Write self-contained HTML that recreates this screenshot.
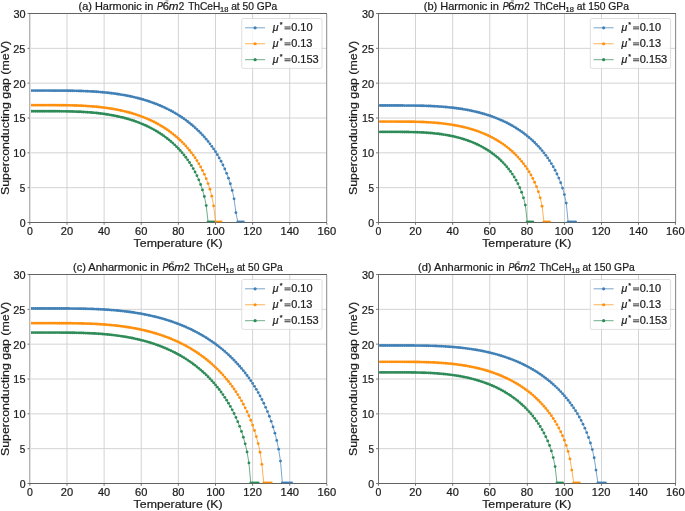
<!DOCTYPE html>
<html><head><meta charset="utf-8"><title>Superconducting gap</title>
<style>html,body{margin:0;padding:0;background:#fff;overflow:hidden}svg{display:block;will-change:transform}text{font-family:"Liberation Sans",sans-serif;stroke:#1c1c1c;stroke-width:0.22px}</style></head>
<body>
<svg width="685" height="511" viewBox="0 0 685 511" font-family='"Liberation Sans", sans-serif' fill="#1c1c1c">
<defs><clipPath id="clip0"><rect x="29.85" y="13.5" width="297.04" height="209.0"/></clipPath><clipPath id="clip1"><rect x="378.40" y="13.5" width="297.04" height="209.0"/></clipPath><clipPath id="clip2"><rect x="29.85" y="274.5" width="297.04" height="209.0"/></clipPath><clipPath id="clip3"><rect x="378.40" y="274.5" width="297.04" height="209.0"/></clipPath></defs>
<rect width="685" height="511" fill="#fff"/>
<line x1="66.98" y1="13.5" x2="66.98" y2="222.5" stroke="#d3d3d3" stroke-width="1"/>
<line x1="104.11" y1="13.5" x2="104.11" y2="222.5" stroke="#d3d3d3" stroke-width="1"/>
<line x1="141.24" y1="13.5" x2="141.24" y2="222.5" stroke="#d3d3d3" stroke-width="1"/>
<line x1="178.37" y1="13.5" x2="178.37" y2="222.5" stroke="#d3d3d3" stroke-width="1"/>
<line x1="215.50" y1="13.5" x2="215.50" y2="222.5" stroke="#d3d3d3" stroke-width="1"/>
<line x1="252.63" y1="13.5" x2="252.63" y2="222.5" stroke="#d3d3d3" stroke-width="1"/>
<line x1="289.76" y1="13.5" x2="289.76" y2="222.5" stroke="#d3d3d3" stroke-width="1"/>
<line x1="29.85" y1="187.67" x2="326.89" y2="187.67" stroke="#d3d3d3" stroke-width="1"/>
<line x1="29.85" y1="152.83" x2="326.89" y2="152.83" stroke="#d3d3d3" stroke-width="1"/>
<line x1="29.85" y1="118.00" x2="326.89" y2="118.00" stroke="#d3d3d3" stroke-width="1"/>
<line x1="29.85" y1="83.17" x2="326.89" y2="83.17" stroke="#d3d3d3" stroke-width="1"/>
<line x1="29.85" y1="48.33" x2="326.89" y2="48.33" stroke="#d3d3d3" stroke-width="1"/>
<rect x="29" y="222.0" width="298" height="1" fill="#636363"/>
<g clip-path="url(#clip0)">
<path d="M31.71,90.62 L33.56,90.62 L35.42,90.62 L37.28,90.62 L39.13,90.62 L40.99,90.62 L42.85,90.62 L44.70,90.62 L46.56,90.62 L48.42,90.62 L50.27,90.62 L52.13,90.63 L53.98,90.63 L55.84,90.63 L57.70,90.64 L59.55,90.65 L61.41,90.65 L63.27,90.67 L65.12,90.68 L66.98,90.70 L68.84,90.72 L70.69,90.75 L72.55,90.78 L74.41,90.82 L76.26,90.86 L78.12,90.90 L79.98,90.96 L81.83,91.02 L83.69,91.08 L85.55,91.16 L87.40,91.24 L89.26,91.33 L91.11,91.43 L92.97,91.54 L94.83,91.66 L96.68,91.78 L98.54,91.92 L100.40,92.07 L102.25,92.23 L104.11,92.40 L105.97,92.59 L107.82,92.78 L109.68,92.99 L111.54,93.22 L113.39,93.45 L115.25,93.70 L117.11,93.97 L118.96,94.25 L120.82,94.55 L122.68,94.86 L124.53,95.19 L126.39,95.54 L128.24,95.91 L130.10,96.29 L131.96,96.69 L133.81,97.11 L135.67,97.56 L137.53,98.02 L139.38,98.51 L141.24,99.01 L143.10,99.54 L144.95,100.10 L146.81,100.67 L148.67,101.28 L150.52,101.90 L152.38,102.56 L154.24,103.24 L156.09,103.95 L157.95,104.69 L159.81,105.46 L161.66,106.26 L163.52,107.09 L165.37,107.96 L167.23,108.86 L169.09,109.80 L170.94,110.78 L172.80,111.79 L174.66,112.85 L176.51,113.94 L178.37,115.08 L180.23,116.27 L182.08,117.50 L183.94,118.79 L185.80,120.12 L187.65,121.51 L189.51,122.96 L191.37,124.47 L193.22,126.04 L195.08,127.68 L196.94,129.39 L198.79,131.18 L200.65,133.04 L202.50,135.00 L204.36,137.04 L206.22,139.19 L208.07,141.44 L209.93,143.81 L211.79,146.30 L213.64,148.94 L215.50,151.74 L217.36,154.71 L219.21,157.88 L221.07,161.27 L222.93,164.94 L224.78,168.93 L226.64,173.31 L228.50,178.20 L230.35,183.78 L232.21,190.39 L234.06,198.81 L235.92,212.67 L237.78,221.80 L239.63,221.80 L241.49,221.80 L243.35,221.80" fill="none" stroke="#4080b6" stroke-width="0.7"/>
<g fill="#4080b6"><circle cx="31.71" cy="90.62" r="1.42"/><circle cx="33.56" cy="90.62" r="1.42"/><circle cx="35.42" cy="90.62" r="1.42"/><circle cx="37.28" cy="90.62" r="1.42"/><circle cx="39.13" cy="90.62" r="1.42"/><circle cx="40.99" cy="90.62" r="1.42"/><circle cx="42.85" cy="90.62" r="1.42"/><circle cx="44.70" cy="90.62" r="1.42"/><circle cx="46.56" cy="90.62" r="1.42"/><circle cx="48.42" cy="90.62" r="1.42"/><circle cx="50.27" cy="90.62" r="1.42"/><circle cx="52.13" cy="90.63" r="1.42"/><circle cx="53.98" cy="90.63" r="1.42"/><circle cx="55.84" cy="90.63" r="1.42"/><circle cx="57.70" cy="90.64" r="1.42"/><circle cx="59.55" cy="90.65" r="1.42"/><circle cx="61.41" cy="90.65" r="1.42"/><circle cx="63.27" cy="90.67" r="1.42"/><circle cx="65.12" cy="90.68" r="1.42"/><circle cx="66.98" cy="90.70" r="1.42"/><circle cx="68.84" cy="90.72" r="1.42"/><circle cx="70.69" cy="90.75" r="1.42"/><circle cx="72.55" cy="90.78" r="1.42"/><circle cx="74.41" cy="90.82" r="1.42"/><circle cx="76.26" cy="90.86" r="1.42"/><circle cx="78.12" cy="90.90" r="1.42"/><circle cx="79.98" cy="90.96" r="1.42"/><circle cx="81.83" cy="91.02" r="1.42"/><circle cx="83.69" cy="91.08" r="1.42"/><circle cx="85.55" cy="91.16" r="1.42"/><circle cx="87.40" cy="91.24" r="1.42"/><circle cx="89.26" cy="91.33" r="1.42"/><circle cx="91.11" cy="91.43" r="1.42"/><circle cx="92.97" cy="91.54" r="1.42"/><circle cx="94.83" cy="91.66" r="1.42"/><circle cx="96.68" cy="91.78" r="1.42"/><circle cx="98.54" cy="91.92" r="1.42"/><circle cx="100.40" cy="92.07" r="1.42"/><circle cx="102.25" cy="92.23" r="1.42"/><circle cx="104.11" cy="92.40" r="1.42"/><circle cx="105.97" cy="92.59" r="1.42"/><circle cx="107.82" cy="92.78" r="1.42"/><circle cx="109.68" cy="92.99" r="1.42"/><circle cx="111.54" cy="93.22" r="1.42"/><circle cx="113.39" cy="93.45" r="1.42"/><circle cx="115.25" cy="93.70" r="1.42"/><circle cx="117.11" cy="93.97" r="1.42"/><circle cx="118.96" cy="94.25" r="1.42"/><circle cx="120.82" cy="94.55" r="1.42"/><circle cx="122.68" cy="94.86" r="1.42"/><circle cx="124.53" cy="95.19" r="1.42"/><circle cx="126.39" cy="95.54" r="1.42"/><circle cx="128.24" cy="95.91" r="1.42"/><circle cx="130.10" cy="96.29" r="1.42"/><circle cx="131.96" cy="96.69" r="1.42"/><circle cx="133.81" cy="97.11" r="1.42"/><circle cx="135.67" cy="97.56" r="1.42"/><circle cx="137.53" cy="98.02" r="1.42"/><circle cx="139.38" cy="98.51" r="1.42"/><circle cx="141.24" cy="99.01" r="1.42"/><circle cx="143.10" cy="99.54" r="1.42"/><circle cx="144.95" cy="100.10" r="1.42"/><circle cx="146.81" cy="100.67" r="1.42"/><circle cx="148.67" cy="101.28" r="1.42"/><circle cx="150.52" cy="101.90" r="1.42"/><circle cx="152.38" cy="102.56" r="1.42"/><circle cx="154.24" cy="103.24" r="1.42"/><circle cx="156.09" cy="103.95" r="1.42"/><circle cx="157.95" cy="104.69" r="1.42"/><circle cx="159.81" cy="105.46" r="1.42"/><circle cx="161.66" cy="106.26" r="1.42"/><circle cx="163.52" cy="107.09" r="1.42"/><circle cx="165.37" cy="107.96" r="1.42"/><circle cx="167.23" cy="108.86" r="1.42"/><circle cx="169.09" cy="109.80" r="1.42"/><circle cx="170.94" cy="110.78" r="1.42"/><circle cx="172.80" cy="111.79" r="1.42"/><circle cx="174.66" cy="112.85" r="1.42"/><circle cx="176.51" cy="113.94" r="1.42"/><circle cx="178.37" cy="115.08" r="1.42"/><circle cx="180.23" cy="116.27" r="1.42"/><circle cx="182.08" cy="117.50" r="1.42"/><circle cx="183.94" cy="118.79" r="1.42"/><circle cx="185.80" cy="120.12" r="1.42"/><circle cx="187.65" cy="121.51" r="1.42"/><circle cx="189.51" cy="122.96" r="1.42"/><circle cx="191.37" cy="124.47" r="1.42"/><circle cx="193.22" cy="126.04" r="1.42"/><circle cx="195.08" cy="127.68" r="1.42"/><circle cx="196.94" cy="129.39" r="1.42"/><circle cx="198.79" cy="131.18" r="1.42"/><circle cx="200.65" cy="133.04" r="1.42"/><circle cx="202.50" cy="135.00" r="1.42"/><circle cx="204.36" cy="137.04" r="1.42"/><circle cx="206.22" cy="139.19" r="1.42"/><circle cx="208.07" cy="141.44" r="1.42"/><circle cx="209.93" cy="143.81" r="1.42"/><circle cx="211.79" cy="146.30" r="1.42"/><circle cx="213.64" cy="148.94" r="1.42"/><circle cx="215.50" cy="151.74" r="1.42"/><circle cx="217.36" cy="154.71" r="1.42"/><circle cx="219.21" cy="157.88" r="1.42"/><circle cx="221.07" cy="161.27" r="1.42"/><circle cx="222.93" cy="164.94" r="1.42"/><circle cx="224.78" cy="168.93" r="1.42"/><circle cx="226.64" cy="173.31" r="1.42"/><circle cx="228.50" cy="178.20" r="1.42"/><circle cx="230.35" cy="183.78" r="1.42"/><circle cx="232.21" cy="190.39" r="1.42"/><circle cx="234.06" cy="198.81" r="1.42"/><circle cx="235.92" cy="212.67" r="1.42"/><circle cx="237.78" cy="221.80" r="1.42"/><circle cx="239.63" cy="221.80" r="1.42"/><circle cx="241.49" cy="221.80" r="1.42"/><circle cx="243.35" cy="221.80" r="1.42"/></g>
<path d="M31.71,105.18 L33.56,105.18 L35.42,105.18 L37.28,105.18 L39.13,105.18 L40.99,105.18 L42.85,105.18 L44.70,105.18 L46.56,105.18 L48.42,105.18 L50.27,105.19 L52.13,105.19 L53.98,105.19 L55.84,105.20 L57.70,105.21 L59.55,105.22 L61.41,105.23 L63.27,105.25 L65.12,105.28 L66.98,105.30 L68.84,105.34 L70.69,105.37 L72.55,105.42 L74.41,105.47 L76.26,105.53 L78.12,105.59 L79.98,105.67 L81.83,105.75 L83.69,105.84 L85.55,105.94 L87.40,106.06 L89.26,106.18 L91.11,106.31 L92.97,106.46 L94.83,106.62 L96.68,106.79 L98.54,106.98 L100.40,107.18 L102.25,107.39 L104.11,107.62 L105.97,107.86 L107.82,108.13 L109.68,108.40 L111.54,108.70 L113.39,109.01 L115.25,109.35 L117.11,109.70 L118.96,110.07 L120.82,110.46 L122.68,110.87 L124.53,111.31 L126.39,111.77 L128.24,112.25 L130.10,112.76 L131.96,113.29 L133.81,113.85 L135.67,114.44 L137.53,115.05 L139.38,115.70 L141.24,116.37 L143.10,117.07 L144.95,117.81 L146.81,118.58 L148.67,119.39 L150.52,120.23 L152.38,121.11 L154.24,122.03 L156.09,122.99 L157.95,124.00 L159.81,125.05 L161.66,126.14 L163.52,127.28 L165.37,128.48 L167.23,129.73 L169.09,131.03 L170.94,132.40 L172.80,133.83 L174.66,135.32 L176.51,136.89 L178.37,138.53 L180.23,140.25 L182.08,142.05 L183.94,143.95 L185.80,145.95 L187.65,148.06 L189.51,150.28 L191.37,152.63 L193.22,155.12 L195.08,157.78 L196.94,160.61 L198.79,163.65 L200.65,166.92 L202.50,170.48 L204.36,174.37 L206.22,178.69 L208.07,183.58 L209.93,189.25 L211.79,196.20 L213.64,205.85 L215.50,221.80 L217.36,221.80 L219.21,221.80 L221.07,221.80" fill="none" stroke="#ff900e" stroke-width="0.7"/>
<g fill="#ff900e"><circle cx="31.71" cy="105.18" r="1.42"/><circle cx="33.56" cy="105.18" r="1.42"/><circle cx="35.42" cy="105.18" r="1.42"/><circle cx="37.28" cy="105.18" r="1.42"/><circle cx="39.13" cy="105.18" r="1.42"/><circle cx="40.99" cy="105.18" r="1.42"/><circle cx="42.85" cy="105.18" r="1.42"/><circle cx="44.70" cy="105.18" r="1.42"/><circle cx="46.56" cy="105.18" r="1.42"/><circle cx="48.42" cy="105.18" r="1.42"/><circle cx="50.27" cy="105.19" r="1.42"/><circle cx="52.13" cy="105.19" r="1.42"/><circle cx="53.98" cy="105.19" r="1.42"/><circle cx="55.84" cy="105.20" r="1.42"/><circle cx="57.70" cy="105.21" r="1.42"/><circle cx="59.55" cy="105.22" r="1.42"/><circle cx="61.41" cy="105.23" r="1.42"/><circle cx="63.27" cy="105.25" r="1.42"/><circle cx="65.12" cy="105.28" r="1.42"/><circle cx="66.98" cy="105.30" r="1.42"/><circle cx="68.84" cy="105.34" r="1.42"/><circle cx="70.69" cy="105.37" r="1.42"/><circle cx="72.55" cy="105.42" r="1.42"/><circle cx="74.41" cy="105.47" r="1.42"/><circle cx="76.26" cy="105.53" r="1.42"/><circle cx="78.12" cy="105.59" r="1.42"/><circle cx="79.98" cy="105.67" r="1.42"/><circle cx="81.83" cy="105.75" r="1.42"/><circle cx="83.69" cy="105.84" r="1.42"/><circle cx="85.55" cy="105.94" r="1.42"/><circle cx="87.40" cy="106.06" r="1.42"/><circle cx="89.26" cy="106.18" r="1.42"/><circle cx="91.11" cy="106.31" r="1.42"/><circle cx="92.97" cy="106.46" r="1.42"/><circle cx="94.83" cy="106.62" r="1.42"/><circle cx="96.68" cy="106.79" r="1.42"/><circle cx="98.54" cy="106.98" r="1.42"/><circle cx="100.40" cy="107.18" r="1.42"/><circle cx="102.25" cy="107.39" r="1.42"/><circle cx="104.11" cy="107.62" r="1.42"/><circle cx="105.97" cy="107.86" r="1.42"/><circle cx="107.82" cy="108.13" r="1.42"/><circle cx="109.68" cy="108.40" r="1.42"/><circle cx="111.54" cy="108.70" r="1.42"/><circle cx="113.39" cy="109.01" r="1.42"/><circle cx="115.25" cy="109.35" r="1.42"/><circle cx="117.11" cy="109.70" r="1.42"/><circle cx="118.96" cy="110.07" r="1.42"/><circle cx="120.82" cy="110.46" r="1.42"/><circle cx="122.68" cy="110.87" r="1.42"/><circle cx="124.53" cy="111.31" r="1.42"/><circle cx="126.39" cy="111.77" r="1.42"/><circle cx="128.24" cy="112.25" r="1.42"/><circle cx="130.10" cy="112.76" r="1.42"/><circle cx="131.96" cy="113.29" r="1.42"/><circle cx="133.81" cy="113.85" r="1.42"/><circle cx="135.67" cy="114.44" r="1.42"/><circle cx="137.53" cy="115.05" r="1.42"/><circle cx="139.38" cy="115.70" r="1.42"/><circle cx="141.24" cy="116.37" r="1.42"/><circle cx="143.10" cy="117.07" r="1.42"/><circle cx="144.95" cy="117.81" r="1.42"/><circle cx="146.81" cy="118.58" r="1.42"/><circle cx="148.67" cy="119.39" r="1.42"/><circle cx="150.52" cy="120.23" r="1.42"/><circle cx="152.38" cy="121.11" r="1.42"/><circle cx="154.24" cy="122.03" r="1.42"/><circle cx="156.09" cy="122.99" r="1.42"/><circle cx="157.95" cy="124.00" r="1.42"/><circle cx="159.81" cy="125.05" r="1.42"/><circle cx="161.66" cy="126.14" r="1.42"/><circle cx="163.52" cy="127.28" r="1.42"/><circle cx="165.37" cy="128.48" r="1.42"/><circle cx="167.23" cy="129.73" r="1.42"/><circle cx="169.09" cy="131.03" r="1.42"/><circle cx="170.94" cy="132.40" r="1.42"/><circle cx="172.80" cy="133.83" r="1.42"/><circle cx="174.66" cy="135.32" r="1.42"/><circle cx="176.51" cy="136.89" r="1.42"/><circle cx="178.37" cy="138.53" r="1.42"/><circle cx="180.23" cy="140.25" r="1.42"/><circle cx="182.08" cy="142.05" r="1.42"/><circle cx="183.94" cy="143.95" r="1.42"/><circle cx="185.80" cy="145.95" r="1.42"/><circle cx="187.65" cy="148.06" r="1.42"/><circle cx="189.51" cy="150.28" r="1.42"/><circle cx="191.37" cy="152.63" r="1.42"/><circle cx="193.22" cy="155.12" r="1.42"/><circle cx="195.08" cy="157.78" r="1.42"/><circle cx="196.94" cy="160.61" r="1.42"/><circle cx="198.79" cy="163.65" r="1.42"/><circle cx="200.65" cy="166.92" r="1.42"/><circle cx="202.50" cy="170.48" r="1.42"/><circle cx="204.36" cy="174.37" r="1.42"/><circle cx="206.22" cy="178.69" r="1.42"/><circle cx="208.07" cy="183.58" r="1.42"/><circle cx="209.93" cy="189.25" r="1.42"/><circle cx="211.79" cy="196.20" r="1.42"/><circle cx="213.64" cy="205.85" r="1.42"/><circle cx="215.50" cy="221.80" r="1.42"/><circle cx="217.36" cy="221.80" r="1.42"/><circle cx="219.21" cy="221.80" r="1.42"/><circle cx="221.07" cy="221.80" r="1.42"/></g>
<path d="M31.71,111.24 L33.56,111.24 L35.42,111.24 L37.28,111.24 L39.13,111.24 L40.99,111.24 L42.85,111.24 L44.70,111.24 L46.56,111.24 L48.42,111.25 L50.27,111.25 L52.13,111.25 L53.98,111.26 L55.84,111.26 L57.70,111.27 L59.55,111.29 L61.41,111.30 L63.27,111.33 L65.12,111.35 L66.98,111.38 L68.84,111.42 L70.69,111.46 L72.55,111.51 L74.41,111.57 L76.26,111.63 L78.12,111.71 L79.98,111.79 L81.83,111.88 L83.69,111.99 L85.55,112.10 L87.40,112.22 L89.26,112.36 L91.11,112.51 L92.97,112.67 L94.83,112.84 L96.68,113.03 L98.54,113.24 L100.40,113.46 L102.25,113.69 L104.11,113.94 L105.97,114.21 L107.82,114.50 L109.68,114.80 L111.54,115.13 L113.39,115.47 L115.25,115.84 L117.11,116.22 L118.96,116.63 L120.82,117.06 L122.68,117.51 L124.53,117.99 L126.39,118.50 L128.24,119.03 L130.10,119.58 L131.96,120.17 L133.81,120.78 L135.67,121.43 L137.53,122.10 L139.38,122.81 L141.24,123.55 L143.10,124.33 L144.95,125.15 L146.81,126.00 L148.67,126.89 L150.52,127.83 L152.38,128.80 L154.24,129.83 L156.09,130.90 L157.95,132.02 L159.81,133.19 L161.66,134.42 L163.52,135.70 L165.37,137.05 L167.23,138.46 L169.09,139.94 L170.94,141.49 L172.80,143.12 L174.66,144.84 L176.51,146.64 L178.37,148.54 L180.23,150.54 L182.08,152.66 L183.94,154.90 L185.80,157.28 L187.65,159.81 L189.51,162.52 L191.37,165.43 L193.22,168.56 L195.08,171.96 L196.94,175.69 L198.79,179.82 L200.65,184.49 L202.50,189.91 L204.36,196.52 L206.22,205.56 L208.07,221.80 L209.93,221.80 L211.79,221.80 L213.64,221.80" fill="none" stroke="#2e8b57" stroke-width="0.7"/>
<g fill="#2e8b57"><circle cx="31.71" cy="111.24" r="1.42"/><circle cx="33.56" cy="111.24" r="1.42"/><circle cx="35.42" cy="111.24" r="1.42"/><circle cx="37.28" cy="111.24" r="1.42"/><circle cx="39.13" cy="111.24" r="1.42"/><circle cx="40.99" cy="111.24" r="1.42"/><circle cx="42.85" cy="111.24" r="1.42"/><circle cx="44.70" cy="111.24" r="1.42"/><circle cx="46.56" cy="111.24" r="1.42"/><circle cx="48.42" cy="111.25" r="1.42"/><circle cx="50.27" cy="111.25" r="1.42"/><circle cx="52.13" cy="111.25" r="1.42"/><circle cx="53.98" cy="111.26" r="1.42"/><circle cx="55.84" cy="111.26" r="1.42"/><circle cx="57.70" cy="111.27" r="1.42"/><circle cx="59.55" cy="111.29" r="1.42"/><circle cx="61.41" cy="111.30" r="1.42"/><circle cx="63.27" cy="111.33" r="1.42"/><circle cx="65.12" cy="111.35" r="1.42"/><circle cx="66.98" cy="111.38" r="1.42"/><circle cx="68.84" cy="111.42" r="1.42"/><circle cx="70.69" cy="111.46" r="1.42"/><circle cx="72.55" cy="111.51" r="1.42"/><circle cx="74.41" cy="111.57" r="1.42"/><circle cx="76.26" cy="111.63" r="1.42"/><circle cx="78.12" cy="111.71" r="1.42"/><circle cx="79.98" cy="111.79" r="1.42"/><circle cx="81.83" cy="111.88" r="1.42"/><circle cx="83.69" cy="111.99" r="1.42"/><circle cx="85.55" cy="112.10" r="1.42"/><circle cx="87.40" cy="112.22" r="1.42"/><circle cx="89.26" cy="112.36" r="1.42"/><circle cx="91.11" cy="112.51" r="1.42"/><circle cx="92.97" cy="112.67" r="1.42"/><circle cx="94.83" cy="112.84" r="1.42"/><circle cx="96.68" cy="113.03" r="1.42"/><circle cx="98.54" cy="113.24" r="1.42"/><circle cx="100.40" cy="113.46" r="1.42"/><circle cx="102.25" cy="113.69" r="1.42"/><circle cx="104.11" cy="113.94" r="1.42"/><circle cx="105.97" cy="114.21" r="1.42"/><circle cx="107.82" cy="114.50" r="1.42"/><circle cx="109.68" cy="114.80" r="1.42"/><circle cx="111.54" cy="115.13" r="1.42"/><circle cx="113.39" cy="115.47" r="1.42"/><circle cx="115.25" cy="115.84" r="1.42"/><circle cx="117.11" cy="116.22" r="1.42"/><circle cx="118.96" cy="116.63" r="1.42"/><circle cx="120.82" cy="117.06" r="1.42"/><circle cx="122.68" cy="117.51" r="1.42"/><circle cx="124.53" cy="117.99" r="1.42"/><circle cx="126.39" cy="118.50" r="1.42"/><circle cx="128.24" cy="119.03" r="1.42"/><circle cx="130.10" cy="119.58" r="1.42"/><circle cx="131.96" cy="120.17" r="1.42"/><circle cx="133.81" cy="120.78" r="1.42"/><circle cx="135.67" cy="121.43" r="1.42"/><circle cx="137.53" cy="122.10" r="1.42"/><circle cx="139.38" cy="122.81" r="1.42"/><circle cx="141.24" cy="123.55" r="1.42"/><circle cx="143.10" cy="124.33" r="1.42"/><circle cx="144.95" cy="125.15" r="1.42"/><circle cx="146.81" cy="126.00" r="1.42"/><circle cx="148.67" cy="126.89" r="1.42"/><circle cx="150.52" cy="127.83" r="1.42"/><circle cx="152.38" cy="128.80" r="1.42"/><circle cx="154.24" cy="129.83" r="1.42"/><circle cx="156.09" cy="130.90" r="1.42"/><circle cx="157.95" cy="132.02" r="1.42"/><circle cx="159.81" cy="133.19" r="1.42"/><circle cx="161.66" cy="134.42" r="1.42"/><circle cx="163.52" cy="135.70" r="1.42"/><circle cx="165.37" cy="137.05" r="1.42"/><circle cx="167.23" cy="138.46" r="1.42"/><circle cx="169.09" cy="139.94" r="1.42"/><circle cx="170.94" cy="141.49" r="1.42"/><circle cx="172.80" cy="143.12" r="1.42"/><circle cx="174.66" cy="144.84" r="1.42"/><circle cx="176.51" cy="146.64" r="1.42"/><circle cx="178.37" cy="148.54" r="1.42"/><circle cx="180.23" cy="150.54" r="1.42"/><circle cx="182.08" cy="152.66" r="1.42"/><circle cx="183.94" cy="154.90" r="1.42"/><circle cx="185.80" cy="157.28" r="1.42"/><circle cx="187.65" cy="159.81" r="1.42"/><circle cx="189.51" cy="162.52" r="1.42"/><circle cx="191.37" cy="165.43" r="1.42"/><circle cx="193.22" cy="168.56" r="1.42"/><circle cx="195.08" cy="171.96" r="1.42"/><circle cx="196.94" cy="175.69" r="1.42"/><circle cx="198.79" cy="179.82" r="1.42"/><circle cx="200.65" cy="184.49" r="1.42"/><circle cx="202.50" cy="189.91" r="1.42"/><circle cx="204.36" cy="196.52" r="1.42"/><circle cx="206.22" cy="205.56" r="1.42"/><circle cx="208.07" cy="221.80" r="1.42"/><circle cx="209.93" cy="221.80" r="1.42"/><circle cx="211.79" cy="221.80" r="1.42"/><circle cx="213.64" cy="221.80" r="1.42"/></g>
</g>
<rect x="29" y="13.0" width="298" height="1" fill="#636363"/>
<rect x="29" y="222.0" width="298" height="1" fill="#636363" opacity="0.55"/>
<rect x="29" y="14.0" width="1" height="208.0" fill="#b4b4b4"/>
<rect x="30" y="14.0" width="1" height="208.0" fill="#e2e2e2"/>
<rect x="326" y="14.0" width="1" height="208.0" fill="#a0a0a0"/>
<rect x="327" y="14.0" width="1" height="208.0" fill="#e8e8e8"/>
<line x1="29.85" y1="223.0" x2="29.85" y2="224.8" stroke="#636363" stroke-width="0.9"/>
<line x1="66.98" y1="223.0" x2="66.98" y2="224.8" stroke="#636363" stroke-width="0.9"/>
<line x1="104.11" y1="223.0" x2="104.11" y2="224.8" stroke="#636363" stroke-width="0.9"/>
<line x1="141.24" y1="223.0" x2="141.24" y2="224.8" stroke="#636363" stroke-width="0.9"/>
<line x1="178.37" y1="223.0" x2="178.37" y2="224.8" stroke="#636363" stroke-width="0.9"/>
<line x1="215.50" y1="223.0" x2="215.50" y2="224.8" stroke="#636363" stroke-width="0.9"/>
<line x1="252.63" y1="223.0" x2="252.63" y2="224.8" stroke="#636363" stroke-width="0.9"/>
<line x1="289.76" y1="223.0" x2="289.76" y2="224.8" stroke="#636363" stroke-width="0.9"/>
<line x1="326.89" y1="223.0" x2="326.89" y2="224.8" stroke="#636363" stroke-width="0.9"/>
<line x1="27.55" y1="222.50" x2="29.35" y2="222.50" stroke="#636363" stroke-width="0.9"/>
<line x1="27.55" y1="187.67" x2="29.35" y2="187.67" stroke="#636363" stroke-width="0.9"/>
<line x1="27.55" y1="152.83" x2="29.35" y2="152.83" stroke="#636363" stroke-width="0.9"/>
<line x1="27.55" y1="118.00" x2="29.35" y2="118.00" stroke="#636363" stroke-width="0.9"/>
<line x1="27.55" y1="83.17" x2="29.35" y2="83.17" stroke="#636363" stroke-width="0.9"/>
<line x1="27.55" y1="48.33" x2="29.35" y2="48.33" stroke="#636363" stroke-width="0.9"/>
<line x1="27.55" y1="13.50" x2="29.35" y2="13.50" stroke="#636363" stroke-width="0.9"/>
<text x="26.91" y="235.10" font-size="10.60" textLength="5.86" lengthAdjust="spacingAndGlyphs" fill="#1c1c1c">0</text>
<text x="60.79" y="235.10" font-size="10.60" textLength="12.31" lengthAdjust="spacingAndGlyphs" fill="#1c1c1c">20</text>
<text x="97.99" y="235.10" font-size="10.60" textLength="12.24" lengthAdjust="spacingAndGlyphs" fill="#1c1c1c">40</text>
<text x="135.01" y="235.10" font-size="10.60" textLength="12.35" lengthAdjust="spacingAndGlyphs" fill="#1c1c1c">60</text>
<text x="172.20" y="235.10" font-size="10.60" textLength="12.29" lengthAdjust="spacingAndGlyphs" fill="#1c1c1c">80</text>
<text x="206.20" y="235.10" font-size="10.60" textLength="18.61" lengthAdjust="spacingAndGlyphs" fill="#1c1c1c">100</text>
<text x="243.33" y="235.10" font-size="10.60" textLength="18.61" lengthAdjust="spacingAndGlyphs" fill="#1c1c1c">120</text>
<text x="280.46" y="235.10" font-size="10.60" textLength="18.61" lengthAdjust="spacingAndGlyphs" fill="#1c1c1c">140</text>
<text x="317.59" y="235.10" font-size="10.60" textLength="18.61" lengthAdjust="spacingAndGlyphs" fill="#1c1c1c">160</text>
<text x="19.73" y="226.90" font-size="10.60" textLength="5.86" lengthAdjust="spacingAndGlyphs" fill="#1c1c1c">0</text>
<text x="19.86" y="192.07" font-size="10.60" textLength="5.53" lengthAdjust="spacingAndGlyphs" fill="#1c1c1c">5</text>
<text x="13.38" y="157.23" font-size="10.60" textLength="12.23" lengthAdjust="spacingAndGlyphs" fill="#1c1c1c">10</text>
<text x="13.39" y="122.40" font-size="10.60" textLength="12.03" lengthAdjust="spacingAndGlyphs" fill="#1c1c1c">15</text>
<text x="13.30" y="87.57" font-size="10.60" textLength="12.31" lengthAdjust="spacingAndGlyphs" fill="#1c1c1c">20</text>
<text x="13.31" y="52.73" font-size="10.60" textLength="12.11" lengthAdjust="spacingAndGlyphs" fill="#1c1c1c">25</text>
<text x="13.47" y="17.90" font-size="10.60" textLength="12.13" lengthAdjust="spacingAndGlyphs" fill="#1c1c1c">30</text>
<text x="133.61" y="247.00" font-size="11.66" textLength="89.10" lengthAdjust="spacingAndGlyphs" fill="#1c1c1c">Temperature (K)</text>
<g transform="translate(8.85,118.00) rotate(-90)"><text x="-77.02" y="0.00" font-size="11.66" textLength="154.02" lengthAdjust="spacingAndGlyphs" fill="#1c1c1c">Superconducting gap (meV)</text></g>
<text x="78.49" y="9.55" font-size="10.28" textLength="74.87" lengthAdjust="spacingAndGlyphs" fill="#1c1c1c">(a) Harmonic in</text>
<text x="157.10" y="9.55" font-size="10.28" font-style="italic" textLength="5.92" lengthAdjust="spacingAndGlyphs" fill="#1c1c1c">P</text>
<text x="162.81" y="9.55" font-size="10.28" textLength="6.25" lengthAdjust="spacingAndGlyphs" fill="#1c1c1c">6</text>
<rect x="165.47" y="0.20" width="2.9" height="1.4" fill="#1c1c1c" opacity="0.45"/>
<text x="168.68" y="9.55" font-size="10.28" font-style="italic" textLength="9.72" lengthAdjust="spacingAndGlyphs" fill="#1c1c1c">m</text>
<text x="178.68" y="9.55" font-size="10.28" textLength="5.49" lengthAdjust="spacingAndGlyphs" fill="#1c1c1c">2</text>
<text x="188.15" y="9.55" font-size="10.28" textLength="32.15" lengthAdjust="spacingAndGlyphs" fill="#1c1c1c">ThCeH</text>
<text x="220.00" y="11.55" font-size="7.19" textLength="8.40" lengthAdjust="spacingAndGlyphs" fill="#1c1c1c">18</text>
<text x="231.14" y="9.55" font-size="10.28" textLength="46.09" lengthAdjust="spacingAndGlyphs" fill="#1c1c1c">at 50 GPa</text>
<rect x="241.74" y="18.50" width="80.3" height="49.9" rx="1.6" ry="1.6" fill="#fff" fill-opacity="0.8" stroke="#cccccc" stroke-opacity="0.8" stroke-width="0.8"/>
<line x1="245.04" y1="27.80" x2="265.04" y2="27.80" stroke="#4080b6" stroke-width="0.7"/>
<circle cx="255.09" cy="27.80" r="1.6" fill="#4080b6"/>
<text x="272.89" y="31.30" font-size="10.28" font-style="italic" textLength="5.75" lengthAdjust="spacingAndGlyphs" fill="#1c1c1c">μ</text>
<text x="279.77" y="26.70" font-size="6.37" textLength="2.83" lengthAdjust="spacingAndGlyphs" fill="#1c1c1c">*</text>
<rect x="284.49" y="26.50" width="6.1" height="1.0" fill="#333"/>
<rect x="284.49" y="28.35" width="6.1" height="1.0" fill="#333"/>
<text x="291.16" y="31.30" font-size="10.28" textLength="21.38" lengthAdjust="spacingAndGlyphs" fill="#1c1c1c">0.10</text>
<line x1="245.04" y1="43.75" x2="265.04" y2="43.75" stroke="#ff900e" stroke-width="0.7"/>
<circle cx="255.09" cy="43.75" r="1.6" fill="#ff900e"/>
<text x="272.89" y="47.25" font-size="10.28" font-style="italic" textLength="5.75" lengthAdjust="spacingAndGlyphs" fill="#1c1c1c">μ</text>
<text x="279.77" y="42.65" font-size="6.37" textLength="2.83" lengthAdjust="spacingAndGlyphs" fill="#1c1c1c">*</text>
<rect x="284.49" y="42.45" width="6.1" height="1.0" fill="#333"/>
<rect x="284.49" y="44.30" width="6.1" height="1.0" fill="#333"/>
<text x="291.16" y="47.25" font-size="10.28" textLength="21.30" lengthAdjust="spacingAndGlyphs" fill="#1c1c1c">0.13</text>
<line x1="245.04" y1="59.70" x2="265.04" y2="59.70" stroke="#2e8b57" stroke-width="0.7"/>
<circle cx="255.09" cy="59.70" r="1.6" fill="#2e8b57"/>
<text x="272.89" y="63.20" font-size="10.28" font-style="italic" textLength="5.75" lengthAdjust="spacingAndGlyphs" fill="#1c1c1c">μ</text>
<text x="279.77" y="58.60" font-size="6.37" textLength="2.83" lengthAdjust="spacingAndGlyphs" fill="#1c1c1c">*</text>
<rect x="284.49" y="58.40" width="6.1" height="1.0" fill="#333"/>
<rect x="284.49" y="60.25" width="6.1" height="1.0" fill="#333"/>
<text x="291.16" y="63.20" font-size="10.28" textLength="27.55" lengthAdjust="spacingAndGlyphs" fill="#1c1c1c">0.153</text>
<line x1="415.53" y1="13.5" x2="415.53" y2="222.5" stroke="#d3d3d3" stroke-width="1"/>
<line x1="452.66" y1="13.5" x2="452.66" y2="222.5" stroke="#d3d3d3" stroke-width="1"/>
<line x1="489.79" y1="13.5" x2="489.79" y2="222.5" stroke="#d3d3d3" stroke-width="1"/>
<line x1="527.37" y1="13.5" x2="527.37" y2="222.5" stroke="#d3d3d3" stroke-width="1"/>
<line x1="564.45" y1="13.5" x2="564.45" y2="222.5" stroke="#d3d3d3" stroke-width="1"/>
<line x1="601.48" y1="13.5" x2="601.48" y2="222.5" stroke="#d3d3d3" stroke-width="1"/>
<line x1="638.51" y1="13.5" x2="638.51" y2="222.5" stroke="#d3d3d3" stroke-width="1"/>
<line x1="378.40" y1="187.67" x2="675.44" y2="187.67" stroke="#d3d3d3" stroke-width="1"/>
<line x1="378.40" y1="152.83" x2="675.44" y2="152.83" stroke="#d3d3d3" stroke-width="1"/>
<line x1="378.40" y1="118.00" x2="675.44" y2="118.00" stroke="#d3d3d3" stroke-width="1"/>
<line x1="378.40" y1="83.17" x2="675.44" y2="83.17" stroke="#d3d3d3" stroke-width="1"/>
<line x1="378.40" y1="48.33" x2="675.44" y2="48.33" stroke="#d3d3d3" stroke-width="1"/>
<rect x="378" y="222.0" width="298" height="1" fill="#636363"/>
<g clip-path="url(#clip1)">
<path d="M380.26,105.53 L382.12,105.53 L383.98,105.53 L385.84,105.53 L387.70,105.53 L389.56,105.53 L391.42,105.53 L393.28,105.53 L395.14,105.53 L397.00,105.53 L398.86,105.53 L400.72,105.54 L402.58,105.54 L404.44,105.55 L406.30,105.55 L408.16,105.56 L410.02,105.58 L411.88,105.59 L413.74,105.61 L415.60,105.64 L417.46,105.67 L419.32,105.70 L421.18,105.74 L423.04,105.79 L424.90,105.84 L426.76,105.90 L428.62,105.97 L430.48,106.04 L432.34,106.13 L434.20,106.22 L436.06,106.32 L437.92,106.44 L439.78,106.56 L441.64,106.69 L443.50,106.84 L445.36,107.00 L447.22,107.17 L449.08,107.35 L450.94,107.55 L452.80,107.76 L454.66,107.98 L456.52,108.22 L458.38,108.48 L460.24,108.75 L462.10,109.04 L463.96,109.34 L465.82,109.67 L467.68,110.01 L469.54,110.37 L471.40,110.75 L473.26,111.15 L475.12,111.57 L476.98,112.01 L478.84,112.48 L480.70,112.97 L482.56,113.48 L484.42,114.02 L486.28,114.59 L488.14,115.18 L490.00,115.79 L491.86,116.44 L493.72,117.12 L495.58,117.82 L497.44,118.56 L499.30,119.33 L501.16,120.14 L503.02,120.98 L504.88,121.85 L506.74,122.77 L508.60,123.73 L510.46,124.72 L512.32,125.76 L514.18,126.85 L516.04,127.98 L517.90,129.16 L519.76,130.40 L521.62,131.69 L523.48,133.04 L525.34,134.44 L527.20,135.92 L529.06,137.46 L530.92,139.07 L532.78,140.76 L534.64,142.53 L536.50,144.40 L538.36,146.35 L540.22,148.41 L542.08,150.59 L543.94,152.88 L545.80,155.32 L547.66,157.90 L549.52,160.65 L551.38,163.60 L553.24,166.77 L555.10,170.21 L556.96,173.96 L558.82,178.10 L560.68,182.76 L562.54,188.11 L564.40,194.56 L566.26,203.07 L568.12,221.80 L569.98,221.80 L571.84,221.80 L573.70,221.80 L575.56,221.80" fill="none" stroke="#4080b6" stroke-width="0.7"/>
<g fill="#4080b6"><circle cx="380.26" cy="105.53" r="1.42"/><circle cx="382.12" cy="105.53" r="1.42"/><circle cx="383.98" cy="105.53" r="1.42"/><circle cx="385.84" cy="105.53" r="1.42"/><circle cx="387.70" cy="105.53" r="1.42"/><circle cx="389.56" cy="105.53" r="1.42"/><circle cx="391.42" cy="105.53" r="1.42"/><circle cx="393.28" cy="105.53" r="1.42"/><circle cx="395.14" cy="105.53" r="1.42"/><circle cx="397.00" cy="105.53" r="1.42"/><circle cx="398.86" cy="105.53" r="1.42"/><circle cx="400.72" cy="105.54" r="1.42"/><circle cx="402.58" cy="105.54" r="1.42"/><circle cx="404.44" cy="105.55" r="1.42"/><circle cx="406.30" cy="105.55" r="1.42"/><circle cx="408.16" cy="105.56" r="1.42"/><circle cx="410.02" cy="105.58" r="1.42"/><circle cx="411.88" cy="105.59" r="1.42"/><circle cx="413.74" cy="105.61" r="1.42"/><circle cx="415.60" cy="105.64" r="1.42"/><circle cx="417.46" cy="105.67" r="1.42"/><circle cx="419.32" cy="105.70" r="1.42"/><circle cx="421.18" cy="105.74" r="1.42"/><circle cx="423.04" cy="105.79" r="1.42"/><circle cx="424.90" cy="105.84" r="1.42"/><circle cx="426.76" cy="105.90" r="1.42"/><circle cx="428.62" cy="105.97" r="1.42"/><circle cx="430.48" cy="106.04" r="1.42"/><circle cx="432.34" cy="106.13" r="1.42"/><circle cx="434.20" cy="106.22" r="1.42"/><circle cx="436.06" cy="106.32" r="1.42"/><circle cx="437.92" cy="106.44" r="1.42"/><circle cx="439.78" cy="106.56" r="1.42"/><circle cx="441.64" cy="106.69" r="1.42"/><circle cx="443.50" cy="106.84" r="1.42"/><circle cx="445.36" cy="107.00" r="1.42"/><circle cx="447.22" cy="107.17" r="1.42"/><circle cx="449.08" cy="107.35" r="1.42"/><circle cx="450.94" cy="107.55" r="1.42"/><circle cx="452.80" cy="107.76" r="1.42"/><circle cx="454.66" cy="107.98" r="1.42"/><circle cx="456.52" cy="108.22" r="1.42"/><circle cx="458.38" cy="108.48" r="1.42"/><circle cx="460.24" cy="108.75" r="1.42"/><circle cx="462.10" cy="109.04" r="1.42"/><circle cx="463.96" cy="109.34" r="1.42"/><circle cx="465.82" cy="109.67" r="1.42"/><circle cx="467.68" cy="110.01" r="1.42"/><circle cx="469.54" cy="110.37" r="1.42"/><circle cx="471.40" cy="110.75" r="1.42"/><circle cx="473.26" cy="111.15" r="1.42"/><circle cx="475.12" cy="111.57" r="1.42"/><circle cx="476.98" cy="112.01" r="1.42"/><circle cx="478.84" cy="112.48" r="1.42"/><circle cx="480.70" cy="112.97" r="1.42"/><circle cx="482.56" cy="113.48" r="1.42"/><circle cx="484.42" cy="114.02" r="1.42"/><circle cx="486.28" cy="114.59" r="1.42"/><circle cx="488.14" cy="115.18" r="1.42"/><circle cx="490.00" cy="115.79" r="1.42"/><circle cx="491.86" cy="116.44" r="1.42"/><circle cx="493.72" cy="117.12" r="1.42"/><circle cx="495.58" cy="117.82" r="1.42"/><circle cx="497.44" cy="118.56" r="1.42"/><circle cx="499.30" cy="119.33" r="1.42"/><circle cx="501.16" cy="120.14" r="1.42"/><circle cx="503.02" cy="120.98" r="1.42"/><circle cx="504.88" cy="121.85" r="1.42"/><circle cx="506.74" cy="122.77" r="1.42"/><circle cx="508.60" cy="123.73" r="1.42"/><circle cx="510.46" cy="124.72" r="1.42"/><circle cx="512.32" cy="125.76" r="1.42"/><circle cx="514.18" cy="126.85" r="1.42"/><circle cx="516.04" cy="127.98" r="1.42"/><circle cx="517.90" cy="129.16" r="1.42"/><circle cx="519.76" cy="130.40" r="1.42"/><circle cx="521.62" cy="131.69" r="1.42"/><circle cx="523.48" cy="133.04" r="1.42"/><circle cx="525.34" cy="134.44" r="1.42"/><circle cx="527.20" cy="135.92" r="1.42"/><circle cx="529.06" cy="137.46" r="1.42"/><circle cx="530.92" cy="139.07" r="1.42"/><circle cx="532.78" cy="140.76" r="1.42"/><circle cx="534.64" cy="142.53" r="1.42"/><circle cx="536.50" cy="144.40" r="1.42"/><circle cx="538.36" cy="146.35" r="1.42"/><circle cx="540.22" cy="148.41" r="1.42"/><circle cx="542.08" cy="150.59" r="1.42"/><circle cx="543.94" cy="152.88" r="1.42"/><circle cx="545.80" cy="155.32" r="1.42"/><circle cx="547.66" cy="157.90" r="1.42"/><circle cx="549.52" cy="160.65" r="1.42"/><circle cx="551.38" cy="163.60" r="1.42"/><circle cx="553.24" cy="166.77" r="1.42"/><circle cx="555.10" cy="170.21" r="1.42"/><circle cx="556.96" cy="173.96" r="1.42"/><circle cx="558.82" cy="178.10" r="1.42"/><circle cx="560.68" cy="182.76" r="1.42"/><circle cx="562.54" cy="188.11" r="1.42"/><circle cx="564.40" cy="194.56" r="1.42"/><circle cx="566.26" cy="203.07" r="1.42"/><circle cx="568.12" cy="221.80" r="1.42"/><circle cx="569.98" cy="221.80" r="1.42"/><circle cx="571.84" cy="221.80" r="1.42"/><circle cx="573.70" cy="221.80" r="1.42"/><circle cx="575.56" cy="221.80" r="1.42"/></g>
<path d="M380.26,121.62 L382.12,121.62 L383.98,121.62 L385.84,121.62 L387.70,121.62 L389.56,121.62 L391.42,121.62 L393.28,121.62 L395.14,121.62 L397.00,121.63 L398.86,121.63 L400.72,121.64 L402.58,121.64 L404.44,121.65 L406.30,121.67 L408.16,121.68 L410.02,121.71 L411.88,121.73 L413.74,121.77 L415.60,121.80 L417.46,121.85 L419.32,121.90 L421.18,121.97 L423.04,122.04 L424.90,122.12 L426.76,122.21 L428.62,122.31 L430.48,122.42 L432.34,122.55 L434.20,122.68 L436.06,122.83 L437.92,123.00 L439.78,123.18 L441.64,123.37 L443.50,123.58 L445.36,123.81 L447.22,124.05 L449.08,124.31 L450.94,124.59 L452.80,124.89 L454.66,125.21 L456.52,125.55 L458.38,125.92 L460.24,126.30 L462.10,126.71 L463.96,127.15 L465.82,127.61 L467.68,128.09 L469.54,128.60 L471.40,129.15 L473.26,129.72 L475.12,130.32 L476.98,130.95 L478.84,131.62 L480.70,132.32 L482.56,133.06 L484.42,133.84 L486.28,134.65 L488.14,135.51 L490.00,136.41 L491.86,137.36 L493.72,138.35 L495.58,139.39 L497.44,140.48 L499.30,141.63 L501.16,142.84 L503.02,144.11 L504.88,145.45 L506.74,146.85 L508.60,148.33 L510.46,149.89 L512.32,151.53 L514.18,153.27 L516.04,155.10 L517.90,157.05 L519.76,159.11 L521.62,161.30 L523.48,163.64 L525.34,166.14 L527.20,168.84 L529.06,171.74 L530.92,174.91 L532.78,178.38 L534.64,182.23 L536.50,186.59 L538.36,191.65 L540.22,197.81 L542.08,206.22 L543.94,221.80 L545.80,221.80 L547.66,221.80 L549.52,221.80" fill="none" stroke="#ff900e" stroke-width="0.7"/>
<g fill="#ff900e"><circle cx="380.26" cy="121.62" r="1.42"/><circle cx="382.12" cy="121.62" r="1.42"/><circle cx="383.98" cy="121.62" r="1.42"/><circle cx="385.84" cy="121.62" r="1.42"/><circle cx="387.70" cy="121.62" r="1.42"/><circle cx="389.56" cy="121.62" r="1.42"/><circle cx="391.42" cy="121.62" r="1.42"/><circle cx="393.28" cy="121.62" r="1.42"/><circle cx="395.14" cy="121.62" r="1.42"/><circle cx="397.00" cy="121.63" r="1.42"/><circle cx="398.86" cy="121.63" r="1.42"/><circle cx="400.72" cy="121.64" r="1.42"/><circle cx="402.58" cy="121.64" r="1.42"/><circle cx="404.44" cy="121.65" r="1.42"/><circle cx="406.30" cy="121.67" r="1.42"/><circle cx="408.16" cy="121.68" r="1.42"/><circle cx="410.02" cy="121.71" r="1.42"/><circle cx="411.88" cy="121.73" r="1.42"/><circle cx="413.74" cy="121.77" r="1.42"/><circle cx="415.60" cy="121.80" r="1.42"/><circle cx="417.46" cy="121.85" r="1.42"/><circle cx="419.32" cy="121.90" r="1.42"/><circle cx="421.18" cy="121.97" r="1.42"/><circle cx="423.04" cy="122.04" r="1.42"/><circle cx="424.90" cy="122.12" r="1.42"/><circle cx="426.76" cy="122.21" r="1.42"/><circle cx="428.62" cy="122.31" r="1.42"/><circle cx="430.48" cy="122.42" r="1.42"/><circle cx="432.34" cy="122.55" r="1.42"/><circle cx="434.20" cy="122.68" r="1.42"/><circle cx="436.06" cy="122.83" r="1.42"/><circle cx="437.92" cy="123.00" r="1.42"/><circle cx="439.78" cy="123.18" r="1.42"/><circle cx="441.64" cy="123.37" r="1.42"/><circle cx="443.50" cy="123.58" r="1.42"/><circle cx="445.36" cy="123.81" r="1.42"/><circle cx="447.22" cy="124.05" r="1.42"/><circle cx="449.08" cy="124.31" r="1.42"/><circle cx="450.94" cy="124.59" r="1.42"/><circle cx="452.80" cy="124.89" r="1.42"/><circle cx="454.66" cy="125.21" r="1.42"/><circle cx="456.52" cy="125.55" r="1.42"/><circle cx="458.38" cy="125.92" r="1.42"/><circle cx="460.24" cy="126.30" r="1.42"/><circle cx="462.10" cy="126.71" r="1.42"/><circle cx="463.96" cy="127.15" r="1.42"/><circle cx="465.82" cy="127.61" r="1.42"/><circle cx="467.68" cy="128.09" r="1.42"/><circle cx="469.54" cy="128.60" r="1.42"/><circle cx="471.40" cy="129.15" r="1.42"/><circle cx="473.26" cy="129.72" r="1.42"/><circle cx="475.12" cy="130.32" r="1.42"/><circle cx="476.98" cy="130.95" r="1.42"/><circle cx="478.84" cy="131.62" r="1.42"/><circle cx="480.70" cy="132.32" r="1.42"/><circle cx="482.56" cy="133.06" r="1.42"/><circle cx="484.42" cy="133.84" r="1.42"/><circle cx="486.28" cy="134.65" r="1.42"/><circle cx="488.14" cy="135.51" r="1.42"/><circle cx="490.00" cy="136.41" r="1.42"/><circle cx="491.86" cy="137.36" r="1.42"/><circle cx="493.72" cy="138.35" r="1.42"/><circle cx="495.58" cy="139.39" r="1.42"/><circle cx="497.44" cy="140.48" r="1.42"/><circle cx="499.30" cy="141.63" r="1.42"/><circle cx="501.16" cy="142.84" r="1.42"/><circle cx="503.02" cy="144.11" r="1.42"/><circle cx="504.88" cy="145.45" r="1.42"/><circle cx="506.74" cy="146.85" r="1.42"/><circle cx="508.60" cy="148.33" r="1.42"/><circle cx="510.46" cy="149.89" r="1.42"/><circle cx="512.32" cy="151.53" r="1.42"/><circle cx="514.18" cy="153.27" r="1.42"/><circle cx="516.04" cy="155.10" r="1.42"/><circle cx="517.90" cy="157.05" r="1.42"/><circle cx="519.76" cy="159.11" r="1.42"/><circle cx="521.62" cy="161.30" r="1.42"/><circle cx="523.48" cy="163.64" r="1.42"/><circle cx="525.34" cy="166.14" r="1.42"/><circle cx="527.20" cy="168.84" r="1.42"/><circle cx="529.06" cy="171.74" r="1.42"/><circle cx="530.92" cy="174.91" r="1.42"/><circle cx="532.78" cy="178.38" r="1.42"/><circle cx="534.64" cy="182.23" r="1.42"/><circle cx="536.50" cy="186.59" r="1.42"/><circle cx="538.36" cy="191.65" r="1.42"/><circle cx="540.22" cy="197.81" r="1.42"/><circle cx="542.08" cy="206.22" r="1.42"/><circle cx="543.94" cy="221.80" r="1.42"/><circle cx="545.80" cy="221.80" r="1.42"/><circle cx="547.66" cy="221.80" r="1.42"/><circle cx="549.52" cy="221.80" r="1.42"/></g>
<path d="M380.26,131.93 L382.12,131.93 L383.98,131.93 L385.84,131.93 L387.70,131.93 L389.56,131.93 L391.42,131.93 L393.28,131.94 L395.14,131.94 L397.00,131.94 L398.86,131.95 L400.72,131.95 L402.58,131.97 L404.44,131.98 L406.30,132.00 L408.16,132.03 L410.02,132.06 L411.88,132.10 L413.74,132.14 L415.60,132.20 L417.46,132.26 L419.32,132.33 L421.18,132.42 L423.04,132.51 L424.90,132.62 L426.76,132.74 L428.62,132.88 L430.48,133.03 L432.34,133.20 L434.20,133.38 L436.06,133.58 L437.92,133.79 L439.78,134.03 L441.64,134.28 L443.50,134.56 L445.36,134.86 L447.22,135.18 L449.08,135.52 L450.94,135.89 L452.80,136.28 L454.66,136.70 L456.52,137.14 L458.38,137.62 L460.24,138.12 L462.10,138.66 L463.96,139.23 L465.82,139.83 L467.68,140.47 L469.54,141.15 L471.40,141.86 L473.26,142.62 L475.12,143.42 L476.98,144.26 L478.84,145.15 L480.70,146.10 L482.56,147.09 L484.42,148.14 L486.28,149.25 L488.14,150.42 L490.00,151.65 L491.86,152.96 L493.72,154.34 L495.58,155.81 L497.44,157.36 L499.30,159.00 L501.16,160.75 L503.02,162.61 L504.88,164.59 L506.74,166.72 L508.60,168.99 L510.46,171.44 L512.32,174.10 L514.18,176.99 L516.04,180.16 L517.90,183.69 L519.76,187.66 L521.62,192.26 L523.48,197.80 L525.34,205.11 L527.20,221.80 L529.06,221.80 L530.92,221.80 L532.78,221.80" fill="none" stroke="#2e8b57" stroke-width="0.7"/>
<g fill="#2e8b57"><circle cx="380.26" cy="131.93" r="1.42"/><circle cx="382.12" cy="131.93" r="1.42"/><circle cx="383.98" cy="131.93" r="1.42"/><circle cx="385.84" cy="131.93" r="1.42"/><circle cx="387.70" cy="131.93" r="1.42"/><circle cx="389.56" cy="131.93" r="1.42"/><circle cx="391.42" cy="131.93" r="1.42"/><circle cx="393.28" cy="131.94" r="1.42"/><circle cx="395.14" cy="131.94" r="1.42"/><circle cx="397.00" cy="131.94" r="1.42"/><circle cx="398.86" cy="131.95" r="1.42"/><circle cx="400.72" cy="131.95" r="1.42"/><circle cx="402.58" cy="131.97" r="1.42"/><circle cx="404.44" cy="131.98" r="1.42"/><circle cx="406.30" cy="132.00" r="1.42"/><circle cx="408.16" cy="132.03" r="1.42"/><circle cx="410.02" cy="132.06" r="1.42"/><circle cx="411.88" cy="132.10" r="1.42"/><circle cx="413.74" cy="132.14" r="1.42"/><circle cx="415.60" cy="132.20" r="1.42"/><circle cx="417.46" cy="132.26" r="1.42"/><circle cx="419.32" cy="132.33" r="1.42"/><circle cx="421.18" cy="132.42" r="1.42"/><circle cx="423.04" cy="132.51" r="1.42"/><circle cx="424.90" cy="132.62" r="1.42"/><circle cx="426.76" cy="132.74" r="1.42"/><circle cx="428.62" cy="132.88" r="1.42"/><circle cx="430.48" cy="133.03" r="1.42"/><circle cx="432.34" cy="133.20" r="1.42"/><circle cx="434.20" cy="133.38" r="1.42"/><circle cx="436.06" cy="133.58" r="1.42"/><circle cx="437.92" cy="133.79" r="1.42"/><circle cx="439.78" cy="134.03" r="1.42"/><circle cx="441.64" cy="134.28" r="1.42"/><circle cx="443.50" cy="134.56" r="1.42"/><circle cx="445.36" cy="134.86" r="1.42"/><circle cx="447.22" cy="135.18" r="1.42"/><circle cx="449.08" cy="135.52" r="1.42"/><circle cx="450.94" cy="135.89" r="1.42"/><circle cx="452.80" cy="136.28" r="1.42"/><circle cx="454.66" cy="136.70" r="1.42"/><circle cx="456.52" cy="137.14" r="1.42"/><circle cx="458.38" cy="137.62" r="1.42"/><circle cx="460.24" cy="138.12" r="1.42"/><circle cx="462.10" cy="138.66" r="1.42"/><circle cx="463.96" cy="139.23" r="1.42"/><circle cx="465.82" cy="139.83" r="1.42"/><circle cx="467.68" cy="140.47" r="1.42"/><circle cx="469.54" cy="141.15" r="1.42"/><circle cx="471.40" cy="141.86" r="1.42"/><circle cx="473.26" cy="142.62" r="1.42"/><circle cx="475.12" cy="143.42" r="1.42"/><circle cx="476.98" cy="144.26" r="1.42"/><circle cx="478.84" cy="145.15" r="1.42"/><circle cx="480.70" cy="146.10" r="1.42"/><circle cx="482.56" cy="147.09" r="1.42"/><circle cx="484.42" cy="148.14" r="1.42"/><circle cx="486.28" cy="149.25" r="1.42"/><circle cx="488.14" cy="150.42" r="1.42"/><circle cx="490.00" cy="151.65" r="1.42"/><circle cx="491.86" cy="152.96" r="1.42"/><circle cx="493.72" cy="154.34" r="1.42"/><circle cx="495.58" cy="155.81" r="1.42"/><circle cx="497.44" cy="157.36" r="1.42"/><circle cx="499.30" cy="159.00" r="1.42"/><circle cx="501.16" cy="160.75" r="1.42"/><circle cx="503.02" cy="162.61" r="1.42"/><circle cx="504.88" cy="164.59" r="1.42"/><circle cx="506.74" cy="166.72" r="1.42"/><circle cx="508.60" cy="168.99" r="1.42"/><circle cx="510.46" cy="171.44" r="1.42"/><circle cx="512.32" cy="174.10" r="1.42"/><circle cx="514.18" cy="176.99" r="1.42"/><circle cx="516.04" cy="180.16" r="1.42"/><circle cx="517.90" cy="183.69" r="1.42"/><circle cx="519.76" cy="187.66" r="1.42"/><circle cx="521.62" cy="192.26" r="1.42"/><circle cx="523.48" cy="197.80" r="1.42"/><circle cx="525.34" cy="205.11" r="1.42"/><circle cx="527.20" cy="221.80" r="1.42"/><circle cx="529.06" cy="221.80" r="1.42"/><circle cx="530.92" cy="221.80" r="1.42"/><circle cx="532.78" cy="221.80" r="1.42"/></g>
</g>
<rect x="378" y="13.0" width="298" height="1" fill="#636363"/>
<rect x="378" y="222.0" width="298" height="1" fill="#636363" opacity="0.55"/>
<rect x="378" y="14.0" width="1" height="208.0" fill="#727272"/>
<rect x="675" y="14.0" width="1" height="208.0" fill="#929292"/>
<rect x="676" y="14.0" width="1" height="208.0" fill="#f0f0f0"/>
<line x1="378.40" y1="223.0" x2="378.40" y2="224.8" stroke="#636363" stroke-width="0.9"/>
<line x1="415.53" y1="223.0" x2="415.53" y2="224.8" stroke="#636363" stroke-width="0.9"/>
<line x1="452.66" y1="223.0" x2="452.66" y2="224.8" stroke="#636363" stroke-width="0.9"/>
<line x1="489.79" y1="223.0" x2="489.79" y2="224.8" stroke="#636363" stroke-width="0.9"/>
<line x1="527.37" y1="223.0" x2="527.37" y2="224.8" stroke="#636363" stroke-width="0.9"/>
<line x1="564.45" y1="223.0" x2="564.45" y2="224.8" stroke="#636363" stroke-width="0.9"/>
<line x1="601.48" y1="223.0" x2="601.48" y2="224.8" stroke="#636363" stroke-width="0.9"/>
<line x1="638.51" y1="223.0" x2="638.51" y2="224.8" stroke="#636363" stroke-width="0.9"/>
<line x1="675.44" y1="223.0" x2="675.44" y2="224.8" stroke="#636363" stroke-width="0.9"/>
<line x1="376.10" y1="222.50" x2="377.90" y2="222.50" stroke="#636363" stroke-width="0.9"/>
<line x1="376.10" y1="187.67" x2="377.90" y2="187.67" stroke="#636363" stroke-width="0.9"/>
<line x1="376.10" y1="152.83" x2="377.90" y2="152.83" stroke="#636363" stroke-width="0.9"/>
<line x1="376.10" y1="118.00" x2="377.90" y2="118.00" stroke="#636363" stroke-width="0.9"/>
<line x1="376.10" y1="83.17" x2="377.90" y2="83.17" stroke="#636363" stroke-width="0.9"/>
<line x1="376.10" y1="48.33" x2="377.90" y2="48.33" stroke="#636363" stroke-width="0.9"/>
<line x1="376.10" y1="13.50" x2="377.90" y2="13.50" stroke="#636363" stroke-width="0.9"/>
<text x="375.46" y="235.10" font-size="10.60" textLength="5.86" lengthAdjust="spacingAndGlyphs" fill="#1c1c1c">0</text>
<text x="409.34" y="235.10" font-size="10.60" textLength="12.31" lengthAdjust="spacingAndGlyphs" fill="#1c1c1c">20</text>
<text x="446.54" y="235.10" font-size="10.60" textLength="12.24" lengthAdjust="spacingAndGlyphs" fill="#1c1c1c">40</text>
<text x="483.56" y="235.10" font-size="10.60" textLength="12.35" lengthAdjust="spacingAndGlyphs" fill="#1c1c1c">60</text>
<text x="520.75" y="235.10" font-size="10.60" textLength="12.29" lengthAdjust="spacingAndGlyphs" fill="#1c1c1c">80</text>
<text x="554.75" y="235.10" font-size="10.60" textLength="18.61" lengthAdjust="spacingAndGlyphs" fill="#1c1c1c">100</text>
<text x="591.88" y="235.10" font-size="10.60" textLength="18.61" lengthAdjust="spacingAndGlyphs" fill="#1c1c1c">120</text>
<text x="629.01" y="235.10" font-size="10.60" textLength="18.61" lengthAdjust="spacingAndGlyphs" fill="#1c1c1c">140</text>
<text x="666.14" y="235.10" font-size="10.60" textLength="18.61" lengthAdjust="spacingAndGlyphs" fill="#1c1c1c">160</text>
<text x="368.28" y="226.90" font-size="10.60" textLength="5.86" lengthAdjust="spacingAndGlyphs" fill="#1c1c1c">0</text>
<text x="368.41" y="192.07" font-size="10.60" textLength="5.53" lengthAdjust="spacingAndGlyphs" fill="#1c1c1c">5</text>
<text x="361.93" y="157.23" font-size="10.60" textLength="12.23" lengthAdjust="spacingAndGlyphs" fill="#1c1c1c">10</text>
<text x="361.94" y="122.40" font-size="10.60" textLength="12.03" lengthAdjust="spacingAndGlyphs" fill="#1c1c1c">15</text>
<text x="361.85" y="87.57" font-size="10.60" textLength="12.31" lengthAdjust="spacingAndGlyphs" fill="#1c1c1c">20</text>
<text x="361.86" y="52.73" font-size="10.60" textLength="12.11" lengthAdjust="spacingAndGlyphs" fill="#1c1c1c">25</text>
<text x="362.02" y="17.90" font-size="10.60" textLength="12.13" lengthAdjust="spacingAndGlyphs" fill="#1c1c1c">30</text>
<text x="482.16" y="247.00" font-size="11.66" textLength="89.10" lengthAdjust="spacingAndGlyphs" fill="#1c1c1c">Temperature (K)</text>
<g transform="translate(357.40,118.00) rotate(-90)"><text x="-77.02" y="0.00" font-size="11.66" textLength="154.02" lengthAdjust="spacingAndGlyphs" fill="#1c1c1c">Superconducting gap (meV)</text></g>
<text x="423.85" y="9.55" font-size="10.28" textLength="75.08" lengthAdjust="spacingAndGlyphs" fill="#1c1c1c">(b) Harmonic in</text>
<text x="502.67" y="9.55" font-size="10.28" font-style="italic" textLength="5.92" lengthAdjust="spacingAndGlyphs" fill="#1c1c1c">P</text>
<text x="508.38" y="9.55" font-size="10.28" textLength="6.25" lengthAdjust="spacingAndGlyphs" fill="#1c1c1c">6</text>
<rect x="511.04" y="0.20" width="2.9" height="1.4" fill="#1c1c1c" opacity="0.45"/>
<text x="514.25" y="9.55" font-size="10.28" font-style="italic" textLength="9.72" lengthAdjust="spacingAndGlyphs" fill="#1c1c1c">m</text>
<text x="524.25" y="9.55" font-size="10.28" textLength="5.49" lengthAdjust="spacingAndGlyphs" fill="#1c1c1c">2</text>
<text x="533.72" y="9.55" font-size="10.28" textLength="32.15" lengthAdjust="spacingAndGlyphs" fill="#1c1c1c">ThCeH</text>
<text x="565.57" y="11.55" font-size="7.19" textLength="8.40" lengthAdjust="spacingAndGlyphs" fill="#1c1c1c">18</text>
<text x="576.71" y="9.55" font-size="10.28" textLength="52.26" lengthAdjust="spacingAndGlyphs" fill="#1c1c1c">at 150 GPa</text>
<rect x="590.29" y="18.50" width="80.3" height="49.9" rx="1.6" ry="1.6" fill="#fff" fill-opacity="0.8" stroke="#cccccc" stroke-opacity="0.8" stroke-width="0.8"/>
<line x1="593.59" y1="27.80" x2="613.59" y2="27.80" stroke="#4080b6" stroke-width="0.7"/>
<circle cx="603.64" cy="27.80" r="1.6" fill="#4080b6"/>
<text x="621.44" y="31.30" font-size="10.28" font-style="italic" textLength="5.75" lengthAdjust="spacingAndGlyphs" fill="#1c1c1c">μ</text>
<text x="628.32" y="26.70" font-size="6.37" textLength="2.83" lengthAdjust="spacingAndGlyphs" fill="#1c1c1c">*</text>
<rect x="633.04" y="26.50" width="6.1" height="1.0" fill="#333"/>
<rect x="633.04" y="28.35" width="6.1" height="1.0" fill="#333"/>
<text x="639.71" y="31.30" font-size="10.28" textLength="21.38" lengthAdjust="spacingAndGlyphs" fill="#1c1c1c">0.10</text>
<line x1="593.59" y1="43.75" x2="613.59" y2="43.75" stroke="#ff900e" stroke-width="0.7"/>
<circle cx="603.64" cy="43.75" r="1.6" fill="#ff900e"/>
<text x="621.44" y="47.25" font-size="10.28" font-style="italic" textLength="5.75" lengthAdjust="spacingAndGlyphs" fill="#1c1c1c">μ</text>
<text x="628.32" y="42.65" font-size="6.37" textLength="2.83" lengthAdjust="spacingAndGlyphs" fill="#1c1c1c">*</text>
<rect x="633.04" y="42.45" width="6.1" height="1.0" fill="#333"/>
<rect x="633.04" y="44.30" width="6.1" height="1.0" fill="#333"/>
<text x="639.71" y="47.25" font-size="10.28" textLength="21.30" lengthAdjust="spacingAndGlyphs" fill="#1c1c1c">0.13</text>
<line x1="593.59" y1="59.70" x2="613.59" y2="59.70" stroke="#2e8b57" stroke-width="0.7"/>
<circle cx="603.64" cy="59.70" r="1.6" fill="#2e8b57"/>
<text x="621.44" y="63.20" font-size="10.28" font-style="italic" textLength="5.75" lengthAdjust="spacingAndGlyphs" fill="#1c1c1c">μ</text>
<text x="628.32" y="58.60" font-size="6.37" textLength="2.83" lengthAdjust="spacingAndGlyphs" fill="#1c1c1c">*</text>
<rect x="633.04" y="58.40" width="6.1" height="1.0" fill="#333"/>
<rect x="633.04" y="60.25" width="6.1" height="1.0" fill="#333"/>
<text x="639.71" y="63.20" font-size="10.28" textLength="27.55" lengthAdjust="spacingAndGlyphs" fill="#1c1c1c">0.153</text>
<line x1="66.98" y1="274.5" x2="66.98" y2="483.5" stroke="#d3d3d3" stroke-width="1"/>
<line x1="104.11" y1="274.5" x2="104.11" y2="483.5" stroke="#d3d3d3" stroke-width="1"/>
<line x1="141.24" y1="274.5" x2="141.24" y2="483.5" stroke="#d3d3d3" stroke-width="1"/>
<line x1="178.37" y1="274.5" x2="178.37" y2="483.5" stroke="#d3d3d3" stroke-width="1"/>
<line x1="215.50" y1="274.5" x2="215.50" y2="483.5" stroke="#d3d3d3" stroke-width="1"/>
<line x1="252.63" y1="274.5" x2="252.63" y2="483.5" stroke="#d3d3d3" stroke-width="1"/>
<line x1="289.76" y1="274.5" x2="289.76" y2="483.5" stroke="#d3d3d3" stroke-width="1"/>
<line x1="29.85" y1="448.67" x2="326.89" y2="448.67" stroke="#d3d3d3" stroke-width="1"/>
<line x1="29.85" y1="413.83" x2="326.89" y2="413.83" stroke="#d3d3d3" stroke-width="1"/>
<line x1="29.85" y1="379.00" x2="326.89" y2="379.00" stroke="#d3d3d3" stroke-width="1"/>
<line x1="29.85" y1="344.17" x2="326.89" y2="344.17" stroke="#d3d3d3" stroke-width="1"/>
<line x1="29.85" y1="309.33" x2="326.89" y2="309.33" stroke="#d3d3d3" stroke-width="1"/>
<rect x="29" y="483.0" width="298" height="1" fill="#636363"/>
<g clip-path="url(#clip2)">
<path d="M31.71,308.50 L33.56,308.50 L35.42,308.50 L37.28,308.50 L39.13,308.50 L40.99,308.50 L42.85,308.50 L44.70,308.50 L46.56,308.50 L48.42,308.50 L50.27,308.50 L52.13,308.50 L53.98,308.50 L55.84,308.50 L57.70,308.50 L59.55,308.51 L61.41,308.51 L63.27,308.52 L65.12,308.52 L66.98,308.53 L68.84,308.54 L70.69,308.56 L72.55,308.57 L74.41,308.59 L76.26,308.62 L78.12,308.64 L79.98,308.67 L81.83,308.70 L83.69,308.74 L85.55,308.79 L87.40,308.83 L89.26,308.89 L91.11,308.95 L92.97,309.01 L94.83,309.08 L96.68,309.16 L98.54,309.24 L100.40,309.33 L102.25,309.43 L104.11,309.54 L105.97,309.65 L107.82,309.78 L109.68,309.91 L111.54,310.05 L113.39,310.20 L115.25,310.36 L117.11,310.52 L118.96,310.70 L120.82,310.89 L122.68,311.09 L124.53,311.31 L126.39,311.53 L128.24,311.77 L130.10,312.01 L131.96,312.27 L133.81,312.54 L135.67,312.83 L137.53,313.13 L139.38,313.44 L141.24,313.77 L143.10,314.11 L144.95,314.47 L146.81,314.84 L148.67,315.23 L150.52,315.63 L152.38,316.05 L154.24,316.49 L156.09,316.95 L157.95,317.42 L159.81,317.91 L161.66,318.42 L163.52,318.95 L165.37,319.50 L167.23,320.06 L169.09,320.65 L170.94,321.26 L172.80,321.90 L174.66,322.55 L176.51,323.23 L178.37,323.93 L180.23,324.65 L182.08,325.40 L183.94,326.18 L185.80,326.98 L187.65,327.81 L189.51,328.66 L191.37,329.54 L193.22,330.46 L195.08,331.40 L196.94,332.37 L198.79,333.38 L200.65,334.42 L202.50,335.49 L204.36,336.59 L206.22,337.74 L208.07,338.92 L209.93,340.14 L211.79,341.39 L213.64,342.69 L215.50,344.03 L217.36,345.42 L219.21,346.85 L221.07,348.33 L222.93,349.86 L224.78,351.44 L226.64,353.07 L228.50,354.76 L230.35,356.51 L232.21,358.32 L234.06,360.20 L235.92,362.14 L237.78,364.16 L239.63,366.25 L241.49,368.42 L243.35,370.67 L245.20,373.02 L247.06,375.46 L248.92,378.00 L250.77,380.65 L252.63,383.42 L254.49,386.33 L256.34,389.37 L258.20,392.57 L260.06,395.94 L261.91,399.50 L263.77,403.28 L265.63,407.30 L267.48,411.62 L269.34,416.27 L271.19,421.34 L273.05,426.92 L274.91,433.19 L276.76,440.42 L278.62,449.17 L280.48,461.08 L282.33,482.80 L284.19,482.80 L286.05,482.80 L287.90,482.80 L289.76,482.80 L291.62,482.80" fill="none" stroke="#4080b6" stroke-width="0.7"/>
<g fill="#4080b6"><circle cx="31.71" cy="308.50" r="1.42"/><circle cx="33.56" cy="308.50" r="1.42"/><circle cx="35.42" cy="308.50" r="1.42"/><circle cx="37.28" cy="308.50" r="1.42"/><circle cx="39.13" cy="308.50" r="1.42"/><circle cx="40.99" cy="308.50" r="1.42"/><circle cx="42.85" cy="308.50" r="1.42"/><circle cx="44.70" cy="308.50" r="1.42"/><circle cx="46.56" cy="308.50" r="1.42"/><circle cx="48.42" cy="308.50" r="1.42"/><circle cx="50.27" cy="308.50" r="1.42"/><circle cx="52.13" cy="308.50" r="1.42"/><circle cx="53.98" cy="308.50" r="1.42"/><circle cx="55.84" cy="308.50" r="1.42"/><circle cx="57.70" cy="308.50" r="1.42"/><circle cx="59.55" cy="308.51" r="1.42"/><circle cx="61.41" cy="308.51" r="1.42"/><circle cx="63.27" cy="308.52" r="1.42"/><circle cx="65.12" cy="308.52" r="1.42"/><circle cx="66.98" cy="308.53" r="1.42"/><circle cx="68.84" cy="308.54" r="1.42"/><circle cx="70.69" cy="308.56" r="1.42"/><circle cx="72.55" cy="308.57" r="1.42"/><circle cx="74.41" cy="308.59" r="1.42"/><circle cx="76.26" cy="308.62" r="1.42"/><circle cx="78.12" cy="308.64" r="1.42"/><circle cx="79.98" cy="308.67" r="1.42"/><circle cx="81.83" cy="308.70" r="1.42"/><circle cx="83.69" cy="308.74" r="1.42"/><circle cx="85.55" cy="308.79" r="1.42"/><circle cx="87.40" cy="308.83" r="1.42"/><circle cx="89.26" cy="308.89" r="1.42"/><circle cx="91.11" cy="308.95" r="1.42"/><circle cx="92.97" cy="309.01" r="1.42"/><circle cx="94.83" cy="309.08" r="1.42"/><circle cx="96.68" cy="309.16" r="1.42"/><circle cx="98.54" cy="309.24" r="1.42"/><circle cx="100.40" cy="309.33" r="1.42"/><circle cx="102.25" cy="309.43" r="1.42"/><circle cx="104.11" cy="309.54" r="1.42"/><circle cx="105.97" cy="309.65" r="1.42"/><circle cx="107.82" cy="309.78" r="1.42"/><circle cx="109.68" cy="309.91" r="1.42"/><circle cx="111.54" cy="310.05" r="1.42"/><circle cx="113.39" cy="310.20" r="1.42"/><circle cx="115.25" cy="310.36" r="1.42"/><circle cx="117.11" cy="310.52" r="1.42"/><circle cx="118.96" cy="310.70" r="1.42"/><circle cx="120.82" cy="310.89" r="1.42"/><circle cx="122.68" cy="311.09" r="1.42"/><circle cx="124.53" cy="311.31" r="1.42"/><circle cx="126.39" cy="311.53" r="1.42"/><circle cx="128.24" cy="311.77" r="1.42"/><circle cx="130.10" cy="312.01" r="1.42"/><circle cx="131.96" cy="312.27" r="1.42"/><circle cx="133.81" cy="312.54" r="1.42"/><circle cx="135.67" cy="312.83" r="1.42"/><circle cx="137.53" cy="313.13" r="1.42"/><circle cx="139.38" cy="313.44" r="1.42"/><circle cx="141.24" cy="313.77" r="1.42"/><circle cx="143.10" cy="314.11" r="1.42"/><circle cx="144.95" cy="314.47" r="1.42"/><circle cx="146.81" cy="314.84" r="1.42"/><circle cx="148.67" cy="315.23" r="1.42"/><circle cx="150.52" cy="315.63" r="1.42"/><circle cx="152.38" cy="316.05" r="1.42"/><circle cx="154.24" cy="316.49" r="1.42"/><circle cx="156.09" cy="316.95" r="1.42"/><circle cx="157.95" cy="317.42" r="1.42"/><circle cx="159.81" cy="317.91" r="1.42"/><circle cx="161.66" cy="318.42" r="1.42"/><circle cx="163.52" cy="318.95" r="1.42"/><circle cx="165.37" cy="319.50" r="1.42"/><circle cx="167.23" cy="320.06" r="1.42"/><circle cx="169.09" cy="320.65" r="1.42"/><circle cx="170.94" cy="321.26" r="1.42"/><circle cx="172.80" cy="321.90" r="1.42"/><circle cx="174.66" cy="322.55" r="1.42"/><circle cx="176.51" cy="323.23" r="1.42"/><circle cx="178.37" cy="323.93" r="1.42"/><circle cx="180.23" cy="324.65" r="1.42"/><circle cx="182.08" cy="325.40" r="1.42"/><circle cx="183.94" cy="326.18" r="1.42"/><circle cx="185.80" cy="326.98" r="1.42"/><circle cx="187.65" cy="327.81" r="1.42"/><circle cx="189.51" cy="328.66" r="1.42"/><circle cx="191.37" cy="329.54" r="1.42"/><circle cx="193.22" cy="330.46" r="1.42"/><circle cx="195.08" cy="331.40" r="1.42"/><circle cx="196.94" cy="332.37" r="1.42"/><circle cx="198.79" cy="333.38" r="1.42"/><circle cx="200.65" cy="334.42" r="1.42"/><circle cx="202.50" cy="335.49" r="1.42"/><circle cx="204.36" cy="336.59" r="1.42"/><circle cx="206.22" cy="337.74" r="1.42"/><circle cx="208.07" cy="338.92" r="1.42"/><circle cx="209.93" cy="340.14" r="1.42"/><circle cx="211.79" cy="341.39" r="1.42"/><circle cx="213.64" cy="342.69" r="1.42"/><circle cx="215.50" cy="344.03" r="1.42"/><circle cx="217.36" cy="345.42" r="1.42"/><circle cx="219.21" cy="346.85" r="1.42"/><circle cx="221.07" cy="348.33" r="1.42"/><circle cx="222.93" cy="349.86" r="1.42"/><circle cx="224.78" cy="351.44" r="1.42"/><circle cx="226.64" cy="353.07" r="1.42"/><circle cx="228.50" cy="354.76" r="1.42"/><circle cx="230.35" cy="356.51" r="1.42"/><circle cx="232.21" cy="358.32" r="1.42"/><circle cx="234.06" cy="360.20" r="1.42"/><circle cx="235.92" cy="362.14" r="1.42"/><circle cx="237.78" cy="364.16" r="1.42"/><circle cx="239.63" cy="366.25" r="1.42"/><circle cx="241.49" cy="368.42" r="1.42"/><circle cx="243.35" cy="370.67" r="1.42"/><circle cx="245.20" cy="373.02" r="1.42"/><circle cx="247.06" cy="375.46" r="1.42"/><circle cx="248.92" cy="378.00" r="1.42"/><circle cx="250.77" cy="380.65" r="1.42"/><circle cx="252.63" cy="383.42" r="1.42"/><circle cx="254.49" cy="386.33" r="1.42"/><circle cx="256.34" cy="389.37" r="1.42"/><circle cx="258.20" cy="392.57" r="1.42"/><circle cx="260.06" cy="395.94" r="1.42"/><circle cx="261.91" cy="399.50" r="1.42"/><circle cx="263.77" cy="403.28" r="1.42"/><circle cx="265.63" cy="407.30" r="1.42"/><circle cx="267.48" cy="411.62" r="1.42"/><circle cx="269.34" cy="416.27" r="1.42"/><circle cx="271.19" cy="421.34" r="1.42"/><circle cx="273.05" cy="426.92" r="1.42"/><circle cx="274.91" cy="433.19" r="1.42"/><circle cx="276.76" cy="440.42" r="1.42"/><circle cx="278.62" cy="449.17" r="1.42"/><circle cx="280.48" cy="461.08" r="1.42"/><circle cx="282.33" cy="482.80" r="1.42"/><circle cx="284.19" cy="482.80" r="1.42"/><circle cx="286.05" cy="482.80" r="1.42"/><circle cx="287.90" cy="482.80" r="1.42"/><circle cx="289.76" cy="482.80" r="1.42"/><circle cx="291.62" cy="482.80" r="1.42"/></g>
<path d="M31.71,323.20 L33.56,323.20 L35.42,323.20 L37.28,323.20 L39.13,323.20 L40.99,323.20 L42.85,323.20 L44.70,323.20 L46.56,323.20 L48.42,323.20 L50.27,323.20 L52.13,323.20 L53.98,323.20 L55.84,323.20 L57.70,323.21 L59.55,323.21 L61.41,323.22 L63.27,323.23 L65.12,323.24 L66.98,323.25 L68.84,323.26 L70.69,323.28 L72.55,323.30 L74.41,323.33 L76.26,323.36 L78.12,323.39 L79.98,323.43 L81.83,323.47 L83.69,323.52 L85.55,323.58 L87.40,323.64 L89.26,323.70 L91.11,323.78 L92.97,323.86 L94.83,323.95 L96.68,324.04 L98.54,324.15 L100.40,324.26 L102.25,324.39 L104.11,324.52 L105.97,324.66 L107.82,324.81 L109.68,324.97 L111.54,325.14 L113.39,325.33 L115.25,325.52 L117.11,325.73 L118.96,325.95 L120.82,326.18 L122.68,326.43 L124.53,326.68 L126.39,326.96 L128.24,327.24 L130.10,327.54 L131.96,327.86 L133.81,328.19 L135.67,328.54 L137.53,328.90 L139.38,329.28 L141.24,329.68 L143.10,330.09 L144.95,330.52 L146.81,330.97 L148.67,331.44 L150.52,331.93 L152.38,332.44 L154.24,332.98 L156.09,333.53 L157.95,334.10 L159.81,334.70 L161.66,335.32 L163.52,335.96 L165.37,336.63 L167.23,337.32 L169.09,338.04 L170.94,338.78 L172.80,339.55 L174.66,340.35 L176.51,341.18 L178.37,342.04 L180.23,342.93 L182.08,343.85 L183.94,344.80 L185.80,345.79 L187.65,346.81 L189.51,347.87 L191.37,348.96 L193.22,350.10 L195.08,351.27 L196.94,352.49 L198.79,353.75 L200.65,355.05 L202.50,356.40 L204.36,357.79 L206.22,359.24 L208.07,360.74 L209.93,362.29 L211.79,363.91 L213.64,365.58 L215.50,367.31 L217.36,369.11 L219.21,370.98 L221.07,372.92 L222.93,374.95 L224.78,377.05 L226.64,379.24 L228.50,381.52 L230.35,383.91 L232.21,386.40 L234.06,389.01 L235.92,391.75 L237.78,394.62 L239.63,397.65 L241.49,400.84 L243.35,404.22 L245.20,407.82 L247.06,411.66 L248.92,415.78 L250.77,420.23 L252.63,425.10 L254.49,430.48 L256.34,436.55 L258.20,443.59 L260.06,452.23 L261.91,464.37 L263.77,482.80 L265.63,482.80 L267.48,482.80 L269.34,482.80 L271.19,482.80" fill="none" stroke="#ff900e" stroke-width="0.7"/>
<g fill="#ff900e"><circle cx="31.71" cy="323.20" r="1.42"/><circle cx="33.56" cy="323.20" r="1.42"/><circle cx="35.42" cy="323.20" r="1.42"/><circle cx="37.28" cy="323.20" r="1.42"/><circle cx="39.13" cy="323.20" r="1.42"/><circle cx="40.99" cy="323.20" r="1.42"/><circle cx="42.85" cy="323.20" r="1.42"/><circle cx="44.70" cy="323.20" r="1.42"/><circle cx="46.56" cy="323.20" r="1.42"/><circle cx="48.42" cy="323.20" r="1.42"/><circle cx="50.27" cy="323.20" r="1.42"/><circle cx="52.13" cy="323.20" r="1.42"/><circle cx="53.98" cy="323.20" r="1.42"/><circle cx="55.84" cy="323.20" r="1.42"/><circle cx="57.70" cy="323.21" r="1.42"/><circle cx="59.55" cy="323.21" r="1.42"/><circle cx="61.41" cy="323.22" r="1.42"/><circle cx="63.27" cy="323.23" r="1.42"/><circle cx="65.12" cy="323.24" r="1.42"/><circle cx="66.98" cy="323.25" r="1.42"/><circle cx="68.84" cy="323.26" r="1.42"/><circle cx="70.69" cy="323.28" r="1.42"/><circle cx="72.55" cy="323.30" r="1.42"/><circle cx="74.41" cy="323.33" r="1.42"/><circle cx="76.26" cy="323.36" r="1.42"/><circle cx="78.12" cy="323.39" r="1.42"/><circle cx="79.98" cy="323.43" r="1.42"/><circle cx="81.83" cy="323.47" r="1.42"/><circle cx="83.69" cy="323.52" r="1.42"/><circle cx="85.55" cy="323.58" r="1.42"/><circle cx="87.40" cy="323.64" r="1.42"/><circle cx="89.26" cy="323.70" r="1.42"/><circle cx="91.11" cy="323.78" r="1.42"/><circle cx="92.97" cy="323.86" r="1.42"/><circle cx="94.83" cy="323.95" r="1.42"/><circle cx="96.68" cy="324.04" r="1.42"/><circle cx="98.54" cy="324.15" r="1.42"/><circle cx="100.40" cy="324.26" r="1.42"/><circle cx="102.25" cy="324.39" r="1.42"/><circle cx="104.11" cy="324.52" r="1.42"/><circle cx="105.97" cy="324.66" r="1.42"/><circle cx="107.82" cy="324.81" r="1.42"/><circle cx="109.68" cy="324.97" r="1.42"/><circle cx="111.54" cy="325.14" r="1.42"/><circle cx="113.39" cy="325.33" r="1.42"/><circle cx="115.25" cy="325.52" r="1.42"/><circle cx="117.11" cy="325.73" r="1.42"/><circle cx="118.96" cy="325.95" r="1.42"/><circle cx="120.82" cy="326.18" r="1.42"/><circle cx="122.68" cy="326.43" r="1.42"/><circle cx="124.53" cy="326.68" r="1.42"/><circle cx="126.39" cy="326.96" r="1.42"/><circle cx="128.24" cy="327.24" r="1.42"/><circle cx="130.10" cy="327.54" r="1.42"/><circle cx="131.96" cy="327.86" r="1.42"/><circle cx="133.81" cy="328.19" r="1.42"/><circle cx="135.67" cy="328.54" r="1.42"/><circle cx="137.53" cy="328.90" r="1.42"/><circle cx="139.38" cy="329.28" r="1.42"/><circle cx="141.24" cy="329.68" r="1.42"/><circle cx="143.10" cy="330.09" r="1.42"/><circle cx="144.95" cy="330.52" r="1.42"/><circle cx="146.81" cy="330.97" r="1.42"/><circle cx="148.67" cy="331.44" r="1.42"/><circle cx="150.52" cy="331.93" r="1.42"/><circle cx="152.38" cy="332.44" r="1.42"/><circle cx="154.24" cy="332.98" r="1.42"/><circle cx="156.09" cy="333.53" r="1.42"/><circle cx="157.95" cy="334.10" r="1.42"/><circle cx="159.81" cy="334.70" r="1.42"/><circle cx="161.66" cy="335.32" r="1.42"/><circle cx="163.52" cy="335.96" r="1.42"/><circle cx="165.37" cy="336.63" r="1.42"/><circle cx="167.23" cy="337.32" r="1.42"/><circle cx="169.09" cy="338.04" r="1.42"/><circle cx="170.94" cy="338.78" r="1.42"/><circle cx="172.80" cy="339.55" r="1.42"/><circle cx="174.66" cy="340.35" r="1.42"/><circle cx="176.51" cy="341.18" r="1.42"/><circle cx="178.37" cy="342.04" r="1.42"/><circle cx="180.23" cy="342.93" r="1.42"/><circle cx="182.08" cy="343.85" r="1.42"/><circle cx="183.94" cy="344.80" r="1.42"/><circle cx="185.80" cy="345.79" r="1.42"/><circle cx="187.65" cy="346.81" r="1.42"/><circle cx="189.51" cy="347.87" r="1.42"/><circle cx="191.37" cy="348.96" r="1.42"/><circle cx="193.22" cy="350.10" r="1.42"/><circle cx="195.08" cy="351.27" r="1.42"/><circle cx="196.94" cy="352.49" r="1.42"/><circle cx="198.79" cy="353.75" r="1.42"/><circle cx="200.65" cy="355.05" r="1.42"/><circle cx="202.50" cy="356.40" r="1.42"/><circle cx="204.36" cy="357.79" r="1.42"/><circle cx="206.22" cy="359.24" r="1.42"/><circle cx="208.07" cy="360.74" r="1.42"/><circle cx="209.93" cy="362.29" r="1.42"/><circle cx="211.79" cy="363.91" r="1.42"/><circle cx="213.64" cy="365.58" r="1.42"/><circle cx="215.50" cy="367.31" r="1.42"/><circle cx="217.36" cy="369.11" r="1.42"/><circle cx="219.21" cy="370.98" r="1.42"/><circle cx="221.07" cy="372.92" r="1.42"/><circle cx="222.93" cy="374.95" r="1.42"/><circle cx="224.78" cy="377.05" r="1.42"/><circle cx="226.64" cy="379.24" r="1.42"/><circle cx="228.50" cy="381.52" r="1.42"/><circle cx="230.35" cy="383.91" r="1.42"/><circle cx="232.21" cy="386.40" r="1.42"/><circle cx="234.06" cy="389.01" r="1.42"/><circle cx="235.92" cy="391.75" r="1.42"/><circle cx="237.78" cy="394.62" r="1.42"/><circle cx="239.63" cy="397.65" r="1.42"/><circle cx="241.49" cy="400.84" r="1.42"/><circle cx="243.35" cy="404.22" r="1.42"/><circle cx="245.20" cy="407.82" r="1.42"/><circle cx="247.06" cy="411.66" r="1.42"/><circle cx="248.92" cy="415.78" r="1.42"/><circle cx="250.77" cy="420.23" r="1.42"/><circle cx="252.63" cy="425.10" r="1.42"/><circle cx="254.49" cy="430.48" r="1.42"/><circle cx="256.34" cy="436.55" r="1.42"/><circle cx="258.20" cy="443.59" r="1.42"/><circle cx="260.06" cy="452.23" r="1.42"/><circle cx="261.91" cy="464.37" r="1.42"/><circle cx="263.77" cy="482.80" r="1.42"/><circle cx="265.63" cy="482.80" r="1.42"/><circle cx="267.48" cy="482.80" r="1.42"/><circle cx="269.34" cy="482.80" r="1.42"/><circle cx="271.19" cy="482.80" r="1.42"/></g>
<path d="M31.71,332.60 L33.56,332.60 L35.42,332.60 L37.28,332.60 L39.13,332.60 L40.99,332.60 L42.85,332.60 L44.70,332.60 L46.56,332.60 L48.42,332.60 L50.27,332.60 L52.13,332.61 L53.98,332.61 L55.84,332.61 L57.70,332.61 L59.55,332.62 L61.41,332.63 L63.27,332.64 L65.12,332.65 L66.98,332.67 L68.84,332.69 L70.69,332.71 L72.55,332.73 L74.41,332.76 L76.26,332.80 L78.12,332.84 L79.98,332.89 L81.83,332.94 L83.69,333.00 L85.55,333.06 L87.40,333.13 L89.26,333.21 L91.11,333.30 L92.97,333.40 L94.83,333.50 L96.68,333.61 L98.54,333.74 L100.40,333.87 L102.25,334.01 L104.11,334.17 L105.97,334.33 L107.82,334.51 L109.68,334.70 L111.54,334.90 L113.39,335.11 L115.25,335.34 L117.11,335.57 L118.96,335.83 L120.82,336.10 L122.68,336.38 L124.53,336.68 L126.39,336.99 L128.24,337.32 L130.10,337.67 L131.96,338.03 L133.81,338.41 L135.67,338.81 L137.53,339.23 L139.38,339.67 L141.24,340.13 L143.10,340.60 L144.95,341.10 L146.81,341.62 L148.67,342.17 L150.52,342.73 L152.38,343.32 L154.24,343.93 L156.09,344.57 L157.95,345.23 L159.81,345.92 L161.66,346.64 L163.52,347.39 L165.37,348.16 L167.23,348.96 L169.09,349.80 L170.94,350.66 L172.80,351.56 L174.66,352.49 L176.51,353.46 L178.37,354.46 L180.23,355.50 L182.08,356.58 L183.94,357.70 L185.80,358.86 L187.65,360.07 L189.51,361.32 L191.37,362.62 L193.22,363.96 L195.08,365.36 L196.94,366.81 L198.79,368.31 L200.65,369.88 L202.50,371.50 L204.36,373.19 L206.22,374.95 L208.07,376.77 L209.93,378.68 L211.79,380.66 L213.64,382.73 L215.50,384.89 L217.36,387.14 L219.21,389.51 L221.07,391.98 L222.93,394.57 L224.78,397.30 L226.64,400.18 L228.50,403.22 L230.35,406.43 L232.21,409.86 L234.06,413.51 L235.92,417.43 L237.78,421.68 L239.63,426.31 L241.49,431.42 L243.35,437.18 L245.20,443.83 L247.06,451.91 L248.92,462.93 L250.77,482.80 L252.63,482.80 L254.49,482.80 L256.34,482.80 L258.20,482.80" fill="none" stroke="#2e8b57" stroke-width="0.7"/>
<g fill="#2e8b57"><circle cx="31.71" cy="332.60" r="1.42"/><circle cx="33.56" cy="332.60" r="1.42"/><circle cx="35.42" cy="332.60" r="1.42"/><circle cx="37.28" cy="332.60" r="1.42"/><circle cx="39.13" cy="332.60" r="1.42"/><circle cx="40.99" cy="332.60" r="1.42"/><circle cx="42.85" cy="332.60" r="1.42"/><circle cx="44.70" cy="332.60" r="1.42"/><circle cx="46.56" cy="332.60" r="1.42"/><circle cx="48.42" cy="332.60" r="1.42"/><circle cx="50.27" cy="332.60" r="1.42"/><circle cx="52.13" cy="332.61" r="1.42"/><circle cx="53.98" cy="332.61" r="1.42"/><circle cx="55.84" cy="332.61" r="1.42"/><circle cx="57.70" cy="332.61" r="1.42"/><circle cx="59.55" cy="332.62" r="1.42"/><circle cx="61.41" cy="332.63" r="1.42"/><circle cx="63.27" cy="332.64" r="1.42"/><circle cx="65.12" cy="332.65" r="1.42"/><circle cx="66.98" cy="332.67" r="1.42"/><circle cx="68.84" cy="332.69" r="1.42"/><circle cx="70.69" cy="332.71" r="1.42"/><circle cx="72.55" cy="332.73" r="1.42"/><circle cx="74.41" cy="332.76" r="1.42"/><circle cx="76.26" cy="332.80" r="1.42"/><circle cx="78.12" cy="332.84" r="1.42"/><circle cx="79.98" cy="332.89" r="1.42"/><circle cx="81.83" cy="332.94" r="1.42"/><circle cx="83.69" cy="333.00" r="1.42"/><circle cx="85.55" cy="333.06" r="1.42"/><circle cx="87.40" cy="333.13" r="1.42"/><circle cx="89.26" cy="333.21" r="1.42"/><circle cx="91.11" cy="333.30" r="1.42"/><circle cx="92.97" cy="333.40" r="1.42"/><circle cx="94.83" cy="333.50" r="1.42"/><circle cx="96.68" cy="333.61" r="1.42"/><circle cx="98.54" cy="333.74" r="1.42"/><circle cx="100.40" cy="333.87" r="1.42"/><circle cx="102.25" cy="334.01" r="1.42"/><circle cx="104.11" cy="334.17" r="1.42"/><circle cx="105.97" cy="334.33" r="1.42"/><circle cx="107.82" cy="334.51" r="1.42"/><circle cx="109.68" cy="334.70" r="1.42"/><circle cx="111.54" cy="334.90" r="1.42"/><circle cx="113.39" cy="335.11" r="1.42"/><circle cx="115.25" cy="335.34" r="1.42"/><circle cx="117.11" cy="335.57" r="1.42"/><circle cx="118.96" cy="335.83" r="1.42"/><circle cx="120.82" cy="336.10" r="1.42"/><circle cx="122.68" cy="336.38" r="1.42"/><circle cx="124.53" cy="336.68" r="1.42"/><circle cx="126.39" cy="336.99" r="1.42"/><circle cx="128.24" cy="337.32" r="1.42"/><circle cx="130.10" cy="337.67" r="1.42"/><circle cx="131.96" cy="338.03" r="1.42"/><circle cx="133.81" cy="338.41" r="1.42"/><circle cx="135.67" cy="338.81" r="1.42"/><circle cx="137.53" cy="339.23" r="1.42"/><circle cx="139.38" cy="339.67" r="1.42"/><circle cx="141.24" cy="340.13" r="1.42"/><circle cx="143.10" cy="340.60" r="1.42"/><circle cx="144.95" cy="341.10" r="1.42"/><circle cx="146.81" cy="341.62" r="1.42"/><circle cx="148.67" cy="342.17" r="1.42"/><circle cx="150.52" cy="342.73" r="1.42"/><circle cx="152.38" cy="343.32" r="1.42"/><circle cx="154.24" cy="343.93" r="1.42"/><circle cx="156.09" cy="344.57" r="1.42"/><circle cx="157.95" cy="345.23" r="1.42"/><circle cx="159.81" cy="345.92" r="1.42"/><circle cx="161.66" cy="346.64" r="1.42"/><circle cx="163.52" cy="347.39" r="1.42"/><circle cx="165.37" cy="348.16" r="1.42"/><circle cx="167.23" cy="348.96" r="1.42"/><circle cx="169.09" cy="349.80" r="1.42"/><circle cx="170.94" cy="350.66" r="1.42"/><circle cx="172.80" cy="351.56" r="1.42"/><circle cx="174.66" cy="352.49" r="1.42"/><circle cx="176.51" cy="353.46" r="1.42"/><circle cx="178.37" cy="354.46" r="1.42"/><circle cx="180.23" cy="355.50" r="1.42"/><circle cx="182.08" cy="356.58" r="1.42"/><circle cx="183.94" cy="357.70" r="1.42"/><circle cx="185.80" cy="358.86" r="1.42"/><circle cx="187.65" cy="360.07" r="1.42"/><circle cx="189.51" cy="361.32" r="1.42"/><circle cx="191.37" cy="362.62" r="1.42"/><circle cx="193.22" cy="363.96" r="1.42"/><circle cx="195.08" cy="365.36" r="1.42"/><circle cx="196.94" cy="366.81" r="1.42"/><circle cx="198.79" cy="368.31" r="1.42"/><circle cx="200.65" cy="369.88" r="1.42"/><circle cx="202.50" cy="371.50" r="1.42"/><circle cx="204.36" cy="373.19" r="1.42"/><circle cx="206.22" cy="374.95" r="1.42"/><circle cx="208.07" cy="376.77" r="1.42"/><circle cx="209.93" cy="378.68" r="1.42"/><circle cx="211.79" cy="380.66" r="1.42"/><circle cx="213.64" cy="382.73" r="1.42"/><circle cx="215.50" cy="384.89" r="1.42"/><circle cx="217.36" cy="387.14" r="1.42"/><circle cx="219.21" cy="389.51" r="1.42"/><circle cx="221.07" cy="391.98" r="1.42"/><circle cx="222.93" cy="394.57" r="1.42"/><circle cx="224.78" cy="397.30" r="1.42"/><circle cx="226.64" cy="400.18" r="1.42"/><circle cx="228.50" cy="403.22" r="1.42"/><circle cx="230.35" cy="406.43" r="1.42"/><circle cx="232.21" cy="409.86" r="1.42"/><circle cx="234.06" cy="413.51" r="1.42"/><circle cx="235.92" cy="417.43" r="1.42"/><circle cx="237.78" cy="421.68" r="1.42"/><circle cx="239.63" cy="426.31" r="1.42"/><circle cx="241.49" cy="431.42" r="1.42"/><circle cx="243.35" cy="437.18" r="1.42"/><circle cx="245.20" cy="443.83" r="1.42"/><circle cx="247.06" cy="451.91" r="1.42"/><circle cx="248.92" cy="462.93" r="1.42"/><circle cx="250.77" cy="482.80" r="1.42"/><circle cx="252.63" cy="482.80" r="1.42"/><circle cx="254.49" cy="482.80" r="1.42"/><circle cx="256.34" cy="482.80" r="1.42"/><circle cx="258.20" cy="482.80" r="1.42"/></g>
</g>
<rect x="29" y="274.0" width="298" height="1" fill="#636363"/>
<rect x="29" y="483.0" width="298" height="1" fill="#636363" opacity="0.55"/>
<rect x="29" y="275.0" width="1" height="208.0" fill="#b4b4b4"/>
<rect x="30" y="275.0" width="1" height="208.0" fill="#e2e2e2"/>
<rect x="326" y="275.0" width="1" height="208.0" fill="#a0a0a0"/>
<rect x="327" y="275.0" width="1" height="208.0" fill="#e8e8e8"/>
<line x1="29.85" y1="484.0" x2="29.85" y2="485.8" stroke="#636363" stroke-width="0.9"/>
<line x1="66.98" y1="484.0" x2="66.98" y2="485.8" stroke="#636363" stroke-width="0.9"/>
<line x1="104.11" y1="484.0" x2="104.11" y2="485.8" stroke="#636363" stroke-width="0.9"/>
<line x1="141.24" y1="484.0" x2="141.24" y2="485.8" stroke="#636363" stroke-width="0.9"/>
<line x1="178.37" y1="484.0" x2="178.37" y2="485.8" stroke="#636363" stroke-width="0.9"/>
<line x1="215.50" y1="484.0" x2="215.50" y2="485.8" stroke="#636363" stroke-width="0.9"/>
<line x1="252.63" y1="484.0" x2="252.63" y2="485.8" stroke="#636363" stroke-width="0.9"/>
<line x1="289.76" y1="484.0" x2="289.76" y2="485.8" stroke="#636363" stroke-width="0.9"/>
<line x1="326.89" y1="484.0" x2="326.89" y2="485.8" stroke="#636363" stroke-width="0.9"/>
<line x1="27.55" y1="483.50" x2="29.35" y2="483.50" stroke="#636363" stroke-width="0.9"/>
<line x1="27.55" y1="448.67" x2="29.35" y2="448.67" stroke="#636363" stroke-width="0.9"/>
<line x1="27.55" y1="413.83" x2="29.35" y2="413.83" stroke="#636363" stroke-width="0.9"/>
<line x1="27.55" y1="379.00" x2="29.35" y2="379.00" stroke="#636363" stroke-width="0.9"/>
<line x1="27.55" y1="344.17" x2="29.35" y2="344.17" stroke="#636363" stroke-width="0.9"/>
<line x1="27.55" y1="309.33" x2="29.35" y2="309.33" stroke="#636363" stroke-width="0.9"/>
<line x1="27.55" y1="274.50" x2="29.35" y2="274.50" stroke="#636363" stroke-width="0.9"/>
<text x="26.91" y="496.10" font-size="10.60" textLength="5.86" lengthAdjust="spacingAndGlyphs" fill="#1c1c1c">0</text>
<text x="60.79" y="496.10" font-size="10.60" textLength="12.31" lengthAdjust="spacingAndGlyphs" fill="#1c1c1c">20</text>
<text x="97.99" y="496.10" font-size="10.60" textLength="12.24" lengthAdjust="spacingAndGlyphs" fill="#1c1c1c">40</text>
<text x="135.01" y="496.10" font-size="10.60" textLength="12.35" lengthAdjust="spacingAndGlyphs" fill="#1c1c1c">60</text>
<text x="172.20" y="496.10" font-size="10.60" textLength="12.29" lengthAdjust="spacingAndGlyphs" fill="#1c1c1c">80</text>
<text x="206.20" y="496.10" font-size="10.60" textLength="18.61" lengthAdjust="spacingAndGlyphs" fill="#1c1c1c">100</text>
<text x="243.33" y="496.10" font-size="10.60" textLength="18.61" lengthAdjust="spacingAndGlyphs" fill="#1c1c1c">120</text>
<text x="280.46" y="496.10" font-size="10.60" textLength="18.61" lengthAdjust="spacingAndGlyphs" fill="#1c1c1c">140</text>
<text x="317.59" y="496.10" font-size="10.60" textLength="18.61" lengthAdjust="spacingAndGlyphs" fill="#1c1c1c">160</text>
<text x="19.73" y="487.90" font-size="10.60" textLength="5.86" lengthAdjust="spacingAndGlyphs" fill="#1c1c1c">0</text>
<text x="19.86" y="453.07" font-size="10.60" textLength="5.53" lengthAdjust="spacingAndGlyphs" fill="#1c1c1c">5</text>
<text x="13.38" y="418.23" font-size="10.60" textLength="12.23" lengthAdjust="spacingAndGlyphs" fill="#1c1c1c">10</text>
<text x="13.39" y="383.40" font-size="10.60" textLength="12.03" lengthAdjust="spacingAndGlyphs" fill="#1c1c1c">15</text>
<text x="13.30" y="348.57" font-size="10.60" textLength="12.31" lengthAdjust="spacingAndGlyphs" fill="#1c1c1c">20</text>
<text x="13.31" y="313.73" font-size="10.60" textLength="12.11" lengthAdjust="spacingAndGlyphs" fill="#1c1c1c">25</text>
<text x="13.47" y="278.90" font-size="10.60" textLength="12.13" lengthAdjust="spacingAndGlyphs" fill="#1c1c1c">30</text>
<text x="133.61" y="508.00" font-size="11.66" textLength="89.10" lengthAdjust="spacingAndGlyphs" fill="#1c1c1c">Temperature (K)</text>
<g transform="translate(8.85,379.00) rotate(-90)"><text x="-77.02" y="0.00" font-size="11.66" textLength="154.02" lengthAdjust="spacingAndGlyphs" fill="#1c1c1c">Superconducting gap (meV)</text></g>
<text x="72.97" y="270.55" font-size="10.28" textLength="85.91" lengthAdjust="spacingAndGlyphs" fill="#1c1c1c">(c) Anharmonic in</text>
<text x="162.62" y="270.55" font-size="10.28" font-style="italic" textLength="5.92" lengthAdjust="spacingAndGlyphs" fill="#1c1c1c">P</text>
<text x="168.32" y="270.55" font-size="10.28" textLength="6.25" lengthAdjust="spacingAndGlyphs" fill="#1c1c1c">6</text>
<rect x="170.98" y="261.20" width="2.9" height="1.4" fill="#1c1c1c" opacity="0.45"/>
<text x="174.20" y="270.55" font-size="10.28" font-style="italic" textLength="9.72" lengthAdjust="spacingAndGlyphs" fill="#1c1c1c">m</text>
<text x="184.19" y="270.55" font-size="10.28" textLength="5.49" lengthAdjust="spacingAndGlyphs" fill="#1c1c1c">2</text>
<text x="193.66" y="270.55" font-size="10.28" textLength="32.15" lengthAdjust="spacingAndGlyphs" fill="#1c1c1c">ThCeH</text>
<text x="225.51" y="272.55" font-size="7.19" textLength="8.40" lengthAdjust="spacingAndGlyphs" fill="#1c1c1c">18</text>
<text x="236.65" y="270.55" font-size="10.28" textLength="46.09" lengthAdjust="spacingAndGlyphs" fill="#1c1c1c">at 50 GPa</text>
<rect x="241.74" y="279.50" width="80.3" height="49.9" rx="1.6" ry="1.6" fill="#fff" fill-opacity="0.8" stroke="#cccccc" stroke-opacity="0.8" stroke-width="0.8"/>
<line x1="245.04" y1="288.80" x2="265.04" y2="288.80" stroke="#4080b6" stroke-width="0.7"/>
<circle cx="255.09" cy="288.80" r="1.6" fill="#4080b6"/>
<text x="272.89" y="292.30" font-size="10.28" font-style="italic" textLength="5.75" lengthAdjust="spacingAndGlyphs" fill="#1c1c1c">μ</text>
<text x="279.77" y="287.70" font-size="6.37" textLength="2.83" lengthAdjust="spacingAndGlyphs" fill="#1c1c1c">*</text>
<rect x="284.49" y="287.50" width="6.1" height="1.0" fill="#333"/>
<rect x="284.49" y="289.35" width="6.1" height="1.0" fill="#333"/>
<text x="291.16" y="292.30" font-size="10.28" textLength="21.38" lengthAdjust="spacingAndGlyphs" fill="#1c1c1c">0.10</text>
<line x1="245.04" y1="304.75" x2="265.04" y2="304.75" stroke="#ff900e" stroke-width="0.7"/>
<circle cx="255.09" cy="304.75" r="1.6" fill="#ff900e"/>
<text x="272.89" y="308.25" font-size="10.28" font-style="italic" textLength="5.75" lengthAdjust="spacingAndGlyphs" fill="#1c1c1c">μ</text>
<text x="279.77" y="303.65" font-size="6.37" textLength="2.83" lengthAdjust="spacingAndGlyphs" fill="#1c1c1c">*</text>
<rect x="284.49" y="303.45" width="6.1" height="1.0" fill="#333"/>
<rect x="284.49" y="305.30" width="6.1" height="1.0" fill="#333"/>
<text x="291.16" y="308.25" font-size="10.28" textLength="21.30" lengthAdjust="spacingAndGlyphs" fill="#1c1c1c">0.13</text>
<line x1="245.04" y1="320.70" x2="265.04" y2="320.70" stroke="#2e8b57" stroke-width="0.7"/>
<circle cx="255.09" cy="320.70" r="1.6" fill="#2e8b57"/>
<text x="272.89" y="324.20" font-size="10.28" font-style="italic" textLength="5.75" lengthAdjust="spacingAndGlyphs" fill="#1c1c1c">μ</text>
<text x="279.77" y="319.60" font-size="6.37" textLength="2.83" lengthAdjust="spacingAndGlyphs" fill="#1c1c1c">*</text>
<rect x="284.49" y="319.40" width="6.1" height="1.0" fill="#333"/>
<rect x="284.49" y="321.25" width="6.1" height="1.0" fill="#333"/>
<text x="291.16" y="324.20" font-size="10.28" textLength="27.55" lengthAdjust="spacingAndGlyphs" fill="#1c1c1c">0.153</text>
<line x1="415.53" y1="274.5" x2="415.53" y2="483.5" stroke="#d3d3d3" stroke-width="1"/>
<line x1="452.66" y1="274.5" x2="452.66" y2="483.5" stroke="#d3d3d3" stroke-width="1"/>
<line x1="489.79" y1="274.5" x2="489.79" y2="483.5" stroke="#d3d3d3" stroke-width="1"/>
<line x1="527.37" y1="274.5" x2="527.37" y2="483.5" stroke="#d3d3d3" stroke-width="1"/>
<line x1="564.45" y1="274.5" x2="564.45" y2="483.5" stroke="#d3d3d3" stroke-width="1"/>
<line x1="601.48" y1="274.5" x2="601.48" y2="483.5" stroke="#d3d3d3" stroke-width="1"/>
<line x1="638.51" y1="274.5" x2="638.51" y2="483.5" stroke="#d3d3d3" stroke-width="1"/>
<line x1="378.40" y1="448.67" x2="675.44" y2="448.67" stroke="#d3d3d3" stroke-width="1"/>
<line x1="378.40" y1="413.83" x2="675.44" y2="413.83" stroke="#d3d3d3" stroke-width="1"/>
<line x1="378.40" y1="379.00" x2="675.44" y2="379.00" stroke="#d3d3d3" stroke-width="1"/>
<line x1="378.40" y1="344.17" x2="675.44" y2="344.17" stroke="#d3d3d3" stroke-width="1"/>
<line x1="378.40" y1="309.33" x2="675.44" y2="309.33" stroke="#d3d3d3" stroke-width="1"/>
<rect x="378" y="483.0" width="298" height="1" fill="#636363"/>
<g clip-path="url(#clip3)">
<path d="M380.26,345.49 L382.12,345.49 L383.98,345.49 L385.84,345.49 L387.70,345.49 L389.56,345.49 L391.42,345.49 L393.28,345.49 L395.14,345.49 L397.00,345.49 L398.86,345.49 L400.72,345.49 L402.58,345.50 L404.44,345.50 L406.30,345.50 L408.16,345.51 L410.02,345.52 L411.88,345.53 L413.74,345.54 L415.60,345.55 L417.46,345.57 L419.32,345.59 L421.18,345.62 L423.04,345.65 L424.90,345.68 L426.76,345.72 L428.62,345.76 L430.48,345.81 L432.34,345.87 L434.20,345.93 L436.06,346.00 L437.92,346.08 L439.78,346.16 L441.64,346.25 L443.50,346.35 L445.36,346.46 L447.22,346.58 L449.08,346.71 L450.94,346.84 L452.80,346.99 L454.66,347.15 L456.52,347.32 L458.38,347.50 L460.24,347.69 L462.10,347.89 L463.96,348.11 L465.82,348.33 L467.68,348.58 L469.54,348.83 L471.40,349.10 L473.26,349.39 L475.12,349.69 L476.98,350.00 L478.84,350.33 L480.70,350.68 L482.56,351.04 L484.42,351.42 L486.28,351.82 L488.14,352.24 L490.00,352.68 L491.86,353.13 L493.72,353.61 L495.58,354.10 L497.44,354.62 L499.30,355.16 L501.16,355.72 L503.02,356.31 L504.88,356.92 L506.74,357.55 L508.60,358.21 L510.46,358.89 L512.32,359.60 L514.18,360.34 L516.04,361.11 L517.90,361.91 L519.76,362.73 L521.62,363.59 L523.48,364.49 L525.34,365.41 L527.20,366.37 L529.06,367.37 L530.92,368.40 L532.78,369.48 L534.64,370.59 L536.50,371.75 L538.36,372.94 L540.22,374.19 L542.08,375.48 L543.94,376.83 L545.80,378.22 L547.66,379.67 L549.52,381.18 L551.38,382.75 L553.24,384.38 L555.10,386.08 L556.96,387.84 L558.82,389.69 L560.68,391.61 L562.54,393.63 L564.40,395.73 L566.26,397.93 L568.12,400.24 L569.98,402.66 L571.84,405.22 L573.70,407.91 L575.56,410.76 L577.42,413.78 L579.28,416.99 L581.14,420.44 L583.00,424.15 L584.86,428.17 L586.72,432.58 L588.58,437.48 L590.44,443.04 L592.30,449.56 L594.16,457.73 L596.02,470.07 L597.88,482.80 L599.74,482.80 L601.60,482.80 L603.46,482.80 L605.32,482.80" fill="none" stroke="#4080b6" stroke-width="0.7"/>
<g fill="#4080b6"><circle cx="380.26" cy="345.49" r="1.42"/><circle cx="382.12" cy="345.49" r="1.42"/><circle cx="383.98" cy="345.49" r="1.42"/><circle cx="385.84" cy="345.49" r="1.42"/><circle cx="387.70" cy="345.49" r="1.42"/><circle cx="389.56" cy="345.49" r="1.42"/><circle cx="391.42" cy="345.49" r="1.42"/><circle cx="393.28" cy="345.49" r="1.42"/><circle cx="395.14" cy="345.49" r="1.42"/><circle cx="397.00" cy="345.49" r="1.42"/><circle cx="398.86" cy="345.49" r="1.42"/><circle cx="400.72" cy="345.49" r="1.42"/><circle cx="402.58" cy="345.50" r="1.42"/><circle cx="404.44" cy="345.50" r="1.42"/><circle cx="406.30" cy="345.50" r="1.42"/><circle cx="408.16" cy="345.51" r="1.42"/><circle cx="410.02" cy="345.52" r="1.42"/><circle cx="411.88" cy="345.53" r="1.42"/><circle cx="413.74" cy="345.54" r="1.42"/><circle cx="415.60" cy="345.55" r="1.42"/><circle cx="417.46" cy="345.57" r="1.42"/><circle cx="419.32" cy="345.59" r="1.42"/><circle cx="421.18" cy="345.62" r="1.42"/><circle cx="423.04" cy="345.65" r="1.42"/><circle cx="424.90" cy="345.68" r="1.42"/><circle cx="426.76" cy="345.72" r="1.42"/><circle cx="428.62" cy="345.76" r="1.42"/><circle cx="430.48" cy="345.81" r="1.42"/><circle cx="432.34" cy="345.87" r="1.42"/><circle cx="434.20" cy="345.93" r="1.42"/><circle cx="436.06" cy="346.00" r="1.42"/><circle cx="437.92" cy="346.08" r="1.42"/><circle cx="439.78" cy="346.16" r="1.42"/><circle cx="441.64" cy="346.25" r="1.42"/><circle cx="443.50" cy="346.35" r="1.42"/><circle cx="445.36" cy="346.46" r="1.42"/><circle cx="447.22" cy="346.58" r="1.42"/><circle cx="449.08" cy="346.71" r="1.42"/><circle cx="450.94" cy="346.84" r="1.42"/><circle cx="452.80" cy="346.99" r="1.42"/><circle cx="454.66" cy="347.15" r="1.42"/><circle cx="456.52" cy="347.32" r="1.42"/><circle cx="458.38" cy="347.50" r="1.42"/><circle cx="460.24" cy="347.69" r="1.42"/><circle cx="462.10" cy="347.89" r="1.42"/><circle cx="463.96" cy="348.11" r="1.42"/><circle cx="465.82" cy="348.33" r="1.42"/><circle cx="467.68" cy="348.58" r="1.42"/><circle cx="469.54" cy="348.83" r="1.42"/><circle cx="471.40" cy="349.10" r="1.42"/><circle cx="473.26" cy="349.39" r="1.42"/><circle cx="475.12" cy="349.69" r="1.42"/><circle cx="476.98" cy="350.00" r="1.42"/><circle cx="478.84" cy="350.33" r="1.42"/><circle cx="480.70" cy="350.68" r="1.42"/><circle cx="482.56" cy="351.04" r="1.42"/><circle cx="484.42" cy="351.42" r="1.42"/><circle cx="486.28" cy="351.82" r="1.42"/><circle cx="488.14" cy="352.24" r="1.42"/><circle cx="490.00" cy="352.68" r="1.42"/><circle cx="491.86" cy="353.13" r="1.42"/><circle cx="493.72" cy="353.61" r="1.42"/><circle cx="495.58" cy="354.10" r="1.42"/><circle cx="497.44" cy="354.62" r="1.42"/><circle cx="499.30" cy="355.16" r="1.42"/><circle cx="501.16" cy="355.72" r="1.42"/><circle cx="503.02" cy="356.31" r="1.42"/><circle cx="504.88" cy="356.92" r="1.42"/><circle cx="506.74" cy="357.55" r="1.42"/><circle cx="508.60" cy="358.21" r="1.42"/><circle cx="510.46" cy="358.89" r="1.42"/><circle cx="512.32" cy="359.60" r="1.42"/><circle cx="514.18" cy="360.34" r="1.42"/><circle cx="516.04" cy="361.11" r="1.42"/><circle cx="517.90" cy="361.91" r="1.42"/><circle cx="519.76" cy="362.73" r="1.42"/><circle cx="521.62" cy="363.59" r="1.42"/><circle cx="523.48" cy="364.49" r="1.42"/><circle cx="525.34" cy="365.41" r="1.42"/><circle cx="527.20" cy="366.37" r="1.42"/><circle cx="529.06" cy="367.37" r="1.42"/><circle cx="530.92" cy="368.40" r="1.42"/><circle cx="532.78" cy="369.48" r="1.42"/><circle cx="534.64" cy="370.59" r="1.42"/><circle cx="536.50" cy="371.75" r="1.42"/><circle cx="538.36" cy="372.94" r="1.42"/><circle cx="540.22" cy="374.19" r="1.42"/><circle cx="542.08" cy="375.48" r="1.42"/><circle cx="543.94" cy="376.83" r="1.42"/><circle cx="545.80" cy="378.22" r="1.42"/><circle cx="547.66" cy="379.67" r="1.42"/><circle cx="549.52" cy="381.18" r="1.42"/><circle cx="551.38" cy="382.75" r="1.42"/><circle cx="553.24" cy="384.38" r="1.42"/><circle cx="555.10" cy="386.08" r="1.42"/><circle cx="556.96" cy="387.84" r="1.42"/><circle cx="558.82" cy="389.69" r="1.42"/><circle cx="560.68" cy="391.61" r="1.42"/><circle cx="562.54" cy="393.63" r="1.42"/><circle cx="564.40" cy="395.73" r="1.42"/><circle cx="566.26" cy="397.93" r="1.42"/><circle cx="568.12" cy="400.24" r="1.42"/><circle cx="569.98" cy="402.66" r="1.42"/><circle cx="571.84" cy="405.22" r="1.42"/><circle cx="573.70" cy="407.91" r="1.42"/><circle cx="575.56" cy="410.76" r="1.42"/><circle cx="577.42" cy="413.78" r="1.42"/><circle cx="579.28" cy="416.99" r="1.42"/><circle cx="581.14" cy="420.44" r="1.42"/><circle cx="583.00" cy="424.15" r="1.42"/><circle cx="584.86" cy="428.17" r="1.42"/><circle cx="586.72" cy="432.58" r="1.42"/><circle cx="588.58" cy="437.48" r="1.42"/><circle cx="590.44" cy="443.04" r="1.42"/><circle cx="592.30" cy="449.56" r="1.42"/><circle cx="594.16" cy="457.73" r="1.42"/><circle cx="596.02" cy="470.07" r="1.42"/><circle cx="597.88" cy="482.80" r="1.42"/><circle cx="599.74" cy="482.80" r="1.42"/><circle cx="601.60" cy="482.80" r="1.42"/><circle cx="603.46" cy="482.80" r="1.42"/><circle cx="605.32" cy="482.80" r="1.42"/></g>
<path d="M380.26,361.86 L382.12,361.86 L383.98,361.86 L385.84,361.86 L387.70,361.86 L389.56,361.86 L391.42,361.86 L393.28,361.86 L395.14,361.86 L397.00,361.86 L398.86,361.87 L400.72,361.87 L402.58,361.87 L404.44,361.88 L406.30,361.88 L408.16,361.89 L410.02,361.91 L411.88,361.92 L413.74,361.94 L415.60,361.96 L417.46,361.99 L419.32,362.02 L421.18,362.06 L423.04,362.10 L424.90,362.15 L426.76,362.21 L428.62,362.27 L430.48,362.34 L432.34,362.42 L434.20,362.51 L436.06,362.61 L437.92,362.72 L439.78,362.83 L441.64,362.96 L443.50,363.10 L445.36,363.25 L447.22,363.41 L449.08,363.58 L450.94,363.77 L452.80,363.97 L454.66,364.18 L456.52,364.41 L458.38,364.66 L460.24,364.91 L462.10,365.19 L463.96,365.48 L465.82,365.79 L467.68,366.11 L469.54,366.46 L471.40,366.82 L473.26,367.20 L475.12,367.61 L476.98,368.03 L478.84,368.47 L480.70,368.94 L482.56,369.43 L484.42,369.94 L486.28,370.48 L488.14,371.04 L490.00,371.63 L491.86,372.24 L493.72,372.89 L495.58,373.56 L497.44,374.26 L499.30,374.99 L501.16,375.76 L503.02,376.55 L504.88,377.38 L506.74,378.25 L508.60,379.16 L510.46,380.10 L512.32,381.08 L514.18,382.10 L516.04,383.17 L517.90,384.28 L519.76,385.45 L521.62,386.66 L523.48,387.92 L525.34,389.24 L527.20,390.61 L529.06,392.04 L530.92,393.54 L532.78,395.11 L534.64,396.75 L536.50,398.47 L538.36,400.26 L540.22,402.15 L542.08,404.13 L543.94,406.21 L545.80,408.40 L547.66,410.71 L549.52,413.16 L551.38,415.75 L553.24,418.50 L555.10,421.45 L556.96,424.60 L558.82,428.01 L560.68,431.71 L562.54,435.77 L564.40,440.28 L566.26,445.42 L568.12,451.44 L569.98,458.95 L571.84,470.12 L573.70,482.80 L575.56,482.80 L577.42,482.80 L579.28,482.80" fill="none" stroke="#ff900e" stroke-width="0.7"/>
<g fill="#ff900e"><circle cx="380.26" cy="361.86" r="1.42"/><circle cx="382.12" cy="361.86" r="1.42"/><circle cx="383.98" cy="361.86" r="1.42"/><circle cx="385.84" cy="361.86" r="1.42"/><circle cx="387.70" cy="361.86" r="1.42"/><circle cx="389.56" cy="361.86" r="1.42"/><circle cx="391.42" cy="361.86" r="1.42"/><circle cx="393.28" cy="361.86" r="1.42"/><circle cx="395.14" cy="361.86" r="1.42"/><circle cx="397.00" cy="361.86" r="1.42"/><circle cx="398.86" cy="361.87" r="1.42"/><circle cx="400.72" cy="361.87" r="1.42"/><circle cx="402.58" cy="361.87" r="1.42"/><circle cx="404.44" cy="361.88" r="1.42"/><circle cx="406.30" cy="361.88" r="1.42"/><circle cx="408.16" cy="361.89" r="1.42"/><circle cx="410.02" cy="361.91" r="1.42"/><circle cx="411.88" cy="361.92" r="1.42"/><circle cx="413.74" cy="361.94" r="1.42"/><circle cx="415.60" cy="361.96" r="1.42"/><circle cx="417.46" cy="361.99" r="1.42"/><circle cx="419.32" cy="362.02" r="1.42"/><circle cx="421.18" cy="362.06" r="1.42"/><circle cx="423.04" cy="362.10" r="1.42"/><circle cx="424.90" cy="362.15" r="1.42"/><circle cx="426.76" cy="362.21" r="1.42"/><circle cx="428.62" cy="362.27" r="1.42"/><circle cx="430.48" cy="362.34" r="1.42"/><circle cx="432.34" cy="362.42" r="1.42"/><circle cx="434.20" cy="362.51" r="1.42"/><circle cx="436.06" cy="362.61" r="1.42"/><circle cx="437.92" cy="362.72" r="1.42"/><circle cx="439.78" cy="362.83" r="1.42"/><circle cx="441.64" cy="362.96" r="1.42"/><circle cx="443.50" cy="363.10" r="1.42"/><circle cx="445.36" cy="363.25" r="1.42"/><circle cx="447.22" cy="363.41" r="1.42"/><circle cx="449.08" cy="363.58" r="1.42"/><circle cx="450.94" cy="363.77" r="1.42"/><circle cx="452.80" cy="363.97" r="1.42"/><circle cx="454.66" cy="364.18" r="1.42"/><circle cx="456.52" cy="364.41" r="1.42"/><circle cx="458.38" cy="364.66" r="1.42"/><circle cx="460.24" cy="364.91" r="1.42"/><circle cx="462.10" cy="365.19" r="1.42"/><circle cx="463.96" cy="365.48" r="1.42"/><circle cx="465.82" cy="365.79" r="1.42"/><circle cx="467.68" cy="366.11" r="1.42"/><circle cx="469.54" cy="366.46" r="1.42"/><circle cx="471.40" cy="366.82" r="1.42"/><circle cx="473.26" cy="367.20" r="1.42"/><circle cx="475.12" cy="367.61" r="1.42"/><circle cx="476.98" cy="368.03" r="1.42"/><circle cx="478.84" cy="368.47" r="1.42"/><circle cx="480.70" cy="368.94" r="1.42"/><circle cx="482.56" cy="369.43" r="1.42"/><circle cx="484.42" cy="369.94" r="1.42"/><circle cx="486.28" cy="370.48" r="1.42"/><circle cx="488.14" cy="371.04" r="1.42"/><circle cx="490.00" cy="371.63" r="1.42"/><circle cx="491.86" cy="372.24" r="1.42"/><circle cx="493.72" cy="372.89" r="1.42"/><circle cx="495.58" cy="373.56" r="1.42"/><circle cx="497.44" cy="374.26" r="1.42"/><circle cx="499.30" cy="374.99" r="1.42"/><circle cx="501.16" cy="375.76" r="1.42"/><circle cx="503.02" cy="376.55" r="1.42"/><circle cx="504.88" cy="377.38" r="1.42"/><circle cx="506.74" cy="378.25" r="1.42"/><circle cx="508.60" cy="379.16" r="1.42"/><circle cx="510.46" cy="380.10" r="1.42"/><circle cx="512.32" cy="381.08" r="1.42"/><circle cx="514.18" cy="382.10" r="1.42"/><circle cx="516.04" cy="383.17" r="1.42"/><circle cx="517.90" cy="384.28" r="1.42"/><circle cx="519.76" cy="385.45" r="1.42"/><circle cx="521.62" cy="386.66" r="1.42"/><circle cx="523.48" cy="387.92" r="1.42"/><circle cx="525.34" cy="389.24" r="1.42"/><circle cx="527.20" cy="390.61" r="1.42"/><circle cx="529.06" cy="392.04" r="1.42"/><circle cx="530.92" cy="393.54" r="1.42"/><circle cx="532.78" cy="395.11" r="1.42"/><circle cx="534.64" cy="396.75" r="1.42"/><circle cx="536.50" cy="398.47" r="1.42"/><circle cx="538.36" cy="400.26" r="1.42"/><circle cx="540.22" cy="402.15" r="1.42"/><circle cx="542.08" cy="404.13" r="1.42"/><circle cx="543.94" cy="406.21" r="1.42"/><circle cx="545.80" cy="408.40" r="1.42"/><circle cx="547.66" cy="410.71" r="1.42"/><circle cx="549.52" cy="413.16" r="1.42"/><circle cx="551.38" cy="415.75" r="1.42"/><circle cx="553.24" cy="418.50" r="1.42"/><circle cx="555.10" cy="421.45" r="1.42"/><circle cx="556.96" cy="424.60" r="1.42"/><circle cx="558.82" cy="428.01" r="1.42"/><circle cx="560.68" cy="431.71" r="1.42"/><circle cx="562.54" cy="435.77" r="1.42"/><circle cx="564.40" cy="440.28" r="1.42"/><circle cx="566.26" cy="445.42" r="1.42"/><circle cx="568.12" cy="451.44" r="1.42"/><circle cx="569.98" cy="458.95" r="1.42"/><circle cx="571.84" cy="470.12" r="1.42"/><circle cx="573.70" cy="482.80" r="1.42"/><circle cx="575.56" cy="482.80" r="1.42"/><circle cx="577.42" cy="482.80" r="1.42"/><circle cx="579.28" cy="482.80" r="1.42"/></g>
<path d="M380.26,372.38 L382.12,372.38 L383.98,372.38 L385.84,372.38 L387.70,372.38 L389.56,372.38 L391.42,372.38 L393.28,372.38 L395.14,372.38 L397.00,372.38 L398.86,372.39 L400.72,372.39 L402.58,372.40 L404.44,372.40 L406.30,372.41 L408.16,372.43 L410.02,372.44 L411.88,372.47 L413.74,372.49 L415.60,372.52 L417.46,372.56 L419.32,372.60 L421.18,372.65 L423.04,372.71 L424.90,372.77 L426.76,372.85 L428.62,372.93 L430.48,373.02 L432.34,373.12 L434.20,373.24 L436.06,373.36 L437.92,373.50 L439.78,373.65 L441.64,373.81 L443.50,373.98 L445.36,374.17 L447.22,374.37 L449.08,374.59 L450.94,374.83 L452.80,375.08 L454.66,375.35 L456.52,375.63 L458.38,375.94 L460.24,376.26 L462.10,376.61 L463.96,376.97 L465.82,377.36 L467.68,377.76 L469.54,378.19 L471.40,378.65 L473.26,379.12 L475.12,379.63 L476.98,380.16 L478.84,380.71 L480.70,381.30 L482.56,381.91 L484.42,382.55 L486.28,383.23 L488.14,383.94 L490.00,384.68 L491.86,385.46 L493.72,386.27 L495.58,387.12 L497.44,388.01 L499.30,388.95 L501.16,389.92 L503.02,390.94 L504.88,392.01 L506.74,393.13 L508.60,394.30 L510.46,395.53 L512.32,396.81 L514.18,398.16 L516.04,399.56 L517.90,401.04 L519.76,402.59 L521.62,404.22 L523.48,405.93 L525.34,407.73 L527.20,409.63 L529.06,411.63 L530.92,413.75 L532.78,415.99 L534.64,418.36 L536.50,420.89 L538.36,423.60 L540.22,426.50 L542.08,429.63 L543.94,433.02 L545.80,436.75 L547.66,440.88 L549.52,445.54 L551.38,450.95 L553.24,457.55 L555.10,466.59 L556.96,482.80 L558.82,482.80 L560.68,482.80 L562.54,482.80" fill="none" stroke="#2e8b57" stroke-width="0.7"/>
<g fill="#2e8b57"><circle cx="380.26" cy="372.38" r="1.42"/><circle cx="382.12" cy="372.38" r="1.42"/><circle cx="383.98" cy="372.38" r="1.42"/><circle cx="385.84" cy="372.38" r="1.42"/><circle cx="387.70" cy="372.38" r="1.42"/><circle cx="389.56" cy="372.38" r="1.42"/><circle cx="391.42" cy="372.38" r="1.42"/><circle cx="393.28" cy="372.38" r="1.42"/><circle cx="395.14" cy="372.38" r="1.42"/><circle cx="397.00" cy="372.38" r="1.42"/><circle cx="398.86" cy="372.39" r="1.42"/><circle cx="400.72" cy="372.39" r="1.42"/><circle cx="402.58" cy="372.40" r="1.42"/><circle cx="404.44" cy="372.40" r="1.42"/><circle cx="406.30" cy="372.41" r="1.42"/><circle cx="408.16" cy="372.43" r="1.42"/><circle cx="410.02" cy="372.44" r="1.42"/><circle cx="411.88" cy="372.47" r="1.42"/><circle cx="413.74" cy="372.49" r="1.42"/><circle cx="415.60" cy="372.52" r="1.42"/><circle cx="417.46" cy="372.56" r="1.42"/><circle cx="419.32" cy="372.60" r="1.42"/><circle cx="421.18" cy="372.65" r="1.42"/><circle cx="423.04" cy="372.71" r="1.42"/><circle cx="424.90" cy="372.77" r="1.42"/><circle cx="426.76" cy="372.85" r="1.42"/><circle cx="428.62" cy="372.93" r="1.42"/><circle cx="430.48" cy="373.02" r="1.42"/><circle cx="432.34" cy="373.12" r="1.42"/><circle cx="434.20" cy="373.24" r="1.42"/><circle cx="436.06" cy="373.36" r="1.42"/><circle cx="437.92" cy="373.50" r="1.42"/><circle cx="439.78" cy="373.65" r="1.42"/><circle cx="441.64" cy="373.81" r="1.42"/><circle cx="443.50" cy="373.98" r="1.42"/><circle cx="445.36" cy="374.17" r="1.42"/><circle cx="447.22" cy="374.37" r="1.42"/><circle cx="449.08" cy="374.59" r="1.42"/><circle cx="450.94" cy="374.83" r="1.42"/><circle cx="452.80" cy="375.08" r="1.42"/><circle cx="454.66" cy="375.35" r="1.42"/><circle cx="456.52" cy="375.63" r="1.42"/><circle cx="458.38" cy="375.94" r="1.42"/><circle cx="460.24" cy="376.26" r="1.42"/><circle cx="462.10" cy="376.61" r="1.42"/><circle cx="463.96" cy="376.97" r="1.42"/><circle cx="465.82" cy="377.36" r="1.42"/><circle cx="467.68" cy="377.76" r="1.42"/><circle cx="469.54" cy="378.19" r="1.42"/><circle cx="471.40" cy="378.65" r="1.42"/><circle cx="473.26" cy="379.12" r="1.42"/><circle cx="475.12" cy="379.63" r="1.42"/><circle cx="476.98" cy="380.16" r="1.42"/><circle cx="478.84" cy="380.71" r="1.42"/><circle cx="480.70" cy="381.30" r="1.42"/><circle cx="482.56" cy="381.91" r="1.42"/><circle cx="484.42" cy="382.55" r="1.42"/><circle cx="486.28" cy="383.23" r="1.42"/><circle cx="488.14" cy="383.94" r="1.42"/><circle cx="490.00" cy="384.68" r="1.42"/><circle cx="491.86" cy="385.46" r="1.42"/><circle cx="493.72" cy="386.27" r="1.42"/><circle cx="495.58" cy="387.12" r="1.42"/><circle cx="497.44" cy="388.01" r="1.42"/><circle cx="499.30" cy="388.95" r="1.42"/><circle cx="501.16" cy="389.92" r="1.42"/><circle cx="503.02" cy="390.94" r="1.42"/><circle cx="504.88" cy="392.01" r="1.42"/><circle cx="506.74" cy="393.13" r="1.42"/><circle cx="508.60" cy="394.30" r="1.42"/><circle cx="510.46" cy="395.53" r="1.42"/><circle cx="512.32" cy="396.81" r="1.42"/><circle cx="514.18" cy="398.16" r="1.42"/><circle cx="516.04" cy="399.56" r="1.42"/><circle cx="517.90" cy="401.04" r="1.42"/><circle cx="519.76" cy="402.59" r="1.42"/><circle cx="521.62" cy="404.22" r="1.42"/><circle cx="523.48" cy="405.93" r="1.42"/><circle cx="525.34" cy="407.73" r="1.42"/><circle cx="527.20" cy="409.63" r="1.42"/><circle cx="529.06" cy="411.63" r="1.42"/><circle cx="530.92" cy="413.75" r="1.42"/><circle cx="532.78" cy="415.99" r="1.42"/><circle cx="534.64" cy="418.36" r="1.42"/><circle cx="536.50" cy="420.89" r="1.42"/><circle cx="538.36" cy="423.60" r="1.42"/><circle cx="540.22" cy="426.50" r="1.42"/><circle cx="542.08" cy="429.63" r="1.42"/><circle cx="543.94" cy="433.02" r="1.42"/><circle cx="545.80" cy="436.75" r="1.42"/><circle cx="547.66" cy="440.88" r="1.42"/><circle cx="549.52" cy="445.54" r="1.42"/><circle cx="551.38" cy="450.95" r="1.42"/><circle cx="553.24" cy="457.55" r="1.42"/><circle cx="555.10" cy="466.59" r="1.42"/><circle cx="556.96" cy="482.80" r="1.42"/><circle cx="558.82" cy="482.80" r="1.42"/><circle cx="560.68" cy="482.80" r="1.42"/><circle cx="562.54" cy="482.80" r="1.42"/></g>
</g>
<rect x="378" y="274.0" width="298" height="1" fill="#636363"/>
<rect x="378" y="483.0" width="298" height="1" fill="#636363" opacity="0.55"/>
<rect x="378" y="275.0" width="1" height="208.0" fill="#727272"/>
<rect x="675" y="275.0" width="1" height="208.0" fill="#929292"/>
<rect x="676" y="275.0" width="1" height="208.0" fill="#f0f0f0"/>
<line x1="378.40" y1="484.0" x2="378.40" y2="485.8" stroke="#636363" stroke-width="0.9"/>
<line x1="415.53" y1="484.0" x2="415.53" y2="485.8" stroke="#636363" stroke-width="0.9"/>
<line x1="452.66" y1="484.0" x2="452.66" y2="485.8" stroke="#636363" stroke-width="0.9"/>
<line x1="489.79" y1="484.0" x2="489.79" y2="485.8" stroke="#636363" stroke-width="0.9"/>
<line x1="527.37" y1="484.0" x2="527.37" y2="485.8" stroke="#636363" stroke-width="0.9"/>
<line x1="564.45" y1="484.0" x2="564.45" y2="485.8" stroke="#636363" stroke-width="0.9"/>
<line x1="601.48" y1="484.0" x2="601.48" y2="485.8" stroke="#636363" stroke-width="0.9"/>
<line x1="638.51" y1="484.0" x2="638.51" y2="485.8" stroke="#636363" stroke-width="0.9"/>
<line x1="675.44" y1="484.0" x2="675.44" y2="485.8" stroke="#636363" stroke-width="0.9"/>
<line x1="376.10" y1="483.50" x2="377.90" y2="483.50" stroke="#636363" stroke-width="0.9"/>
<line x1="376.10" y1="448.67" x2="377.90" y2="448.67" stroke="#636363" stroke-width="0.9"/>
<line x1="376.10" y1="413.83" x2="377.90" y2="413.83" stroke="#636363" stroke-width="0.9"/>
<line x1="376.10" y1="379.00" x2="377.90" y2="379.00" stroke="#636363" stroke-width="0.9"/>
<line x1="376.10" y1="344.17" x2="377.90" y2="344.17" stroke="#636363" stroke-width="0.9"/>
<line x1="376.10" y1="309.33" x2="377.90" y2="309.33" stroke="#636363" stroke-width="0.9"/>
<line x1="376.10" y1="274.50" x2="377.90" y2="274.50" stroke="#636363" stroke-width="0.9"/>
<text x="375.46" y="496.10" font-size="10.60" textLength="5.86" lengthAdjust="spacingAndGlyphs" fill="#1c1c1c">0</text>
<text x="409.34" y="496.10" font-size="10.60" textLength="12.31" lengthAdjust="spacingAndGlyphs" fill="#1c1c1c">20</text>
<text x="446.54" y="496.10" font-size="10.60" textLength="12.24" lengthAdjust="spacingAndGlyphs" fill="#1c1c1c">40</text>
<text x="483.56" y="496.10" font-size="10.60" textLength="12.35" lengthAdjust="spacingAndGlyphs" fill="#1c1c1c">60</text>
<text x="520.75" y="496.10" font-size="10.60" textLength="12.29" lengthAdjust="spacingAndGlyphs" fill="#1c1c1c">80</text>
<text x="554.75" y="496.10" font-size="10.60" textLength="18.61" lengthAdjust="spacingAndGlyphs" fill="#1c1c1c">100</text>
<text x="591.88" y="496.10" font-size="10.60" textLength="18.61" lengthAdjust="spacingAndGlyphs" fill="#1c1c1c">120</text>
<text x="629.01" y="496.10" font-size="10.60" textLength="18.61" lengthAdjust="spacingAndGlyphs" fill="#1c1c1c">140</text>
<text x="666.14" y="496.10" font-size="10.60" textLength="18.61" lengthAdjust="spacingAndGlyphs" fill="#1c1c1c">160</text>
<text x="368.28" y="487.90" font-size="10.60" textLength="5.86" lengthAdjust="spacingAndGlyphs" fill="#1c1c1c">0</text>
<text x="368.41" y="453.07" font-size="10.60" textLength="5.53" lengthAdjust="spacingAndGlyphs" fill="#1c1c1c">5</text>
<text x="361.93" y="418.23" font-size="10.60" textLength="12.23" lengthAdjust="spacingAndGlyphs" fill="#1c1c1c">10</text>
<text x="361.94" y="383.40" font-size="10.60" textLength="12.03" lengthAdjust="spacingAndGlyphs" fill="#1c1c1c">15</text>
<text x="361.85" y="348.57" font-size="10.60" textLength="12.31" lengthAdjust="spacingAndGlyphs" fill="#1c1c1c">20</text>
<text x="361.86" y="313.73" font-size="10.60" textLength="12.11" lengthAdjust="spacingAndGlyphs" fill="#1c1c1c">25</text>
<text x="362.02" y="278.90" font-size="10.60" textLength="12.13" lengthAdjust="spacingAndGlyphs" fill="#1c1c1c">30</text>
<text x="482.16" y="508.00" font-size="11.66" textLength="89.10" lengthAdjust="spacingAndGlyphs" fill="#1c1c1c">Temperature (K)</text>
<g transform="translate(357.40,379.00) rotate(-90)"><text x="-77.02" y="0.00" font-size="11.66" textLength="154.02" lengthAdjust="spacingAndGlyphs" fill="#1c1c1c">Superconducting gap (meV)</text></g>
<text x="418.02" y="270.55" font-size="10.28" textLength="86.73" lengthAdjust="spacingAndGlyphs" fill="#1c1c1c">(d) Anharmonic in</text>
<text x="508.49" y="270.55" font-size="10.28" font-style="italic" textLength="5.92" lengthAdjust="spacingAndGlyphs" fill="#1c1c1c">P</text>
<text x="514.20" y="270.55" font-size="10.28" textLength="6.25" lengthAdjust="spacingAndGlyphs" fill="#1c1c1c">6</text>
<rect x="516.86" y="261.20" width="2.9" height="1.4" fill="#1c1c1c" opacity="0.45"/>
<text x="520.07" y="270.55" font-size="10.28" font-style="italic" textLength="9.72" lengthAdjust="spacingAndGlyphs" fill="#1c1c1c">m</text>
<text x="530.07" y="270.55" font-size="10.28" textLength="5.49" lengthAdjust="spacingAndGlyphs" fill="#1c1c1c">2</text>
<text x="539.54" y="270.55" font-size="10.28" textLength="32.15" lengthAdjust="spacingAndGlyphs" fill="#1c1c1c">ThCeH</text>
<text x="571.39" y="272.55" font-size="7.19" textLength="8.40" lengthAdjust="spacingAndGlyphs" fill="#1c1c1c">18</text>
<text x="582.53" y="270.55" font-size="10.28" textLength="52.26" lengthAdjust="spacingAndGlyphs" fill="#1c1c1c">at 150 GPa</text>
<rect x="590.29" y="279.50" width="80.3" height="49.9" rx="1.6" ry="1.6" fill="#fff" fill-opacity="0.8" stroke="#cccccc" stroke-opacity="0.8" stroke-width="0.8"/>
<line x1="593.59" y1="288.80" x2="613.59" y2="288.80" stroke="#4080b6" stroke-width="0.7"/>
<circle cx="603.64" cy="288.80" r="1.6" fill="#4080b6"/>
<text x="621.44" y="292.30" font-size="10.28" font-style="italic" textLength="5.75" lengthAdjust="spacingAndGlyphs" fill="#1c1c1c">μ</text>
<text x="628.32" y="287.70" font-size="6.37" textLength="2.83" lengthAdjust="spacingAndGlyphs" fill="#1c1c1c">*</text>
<rect x="633.04" y="287.50" width="6.1" height="1.0" fill="#333"/>
<rect x="633.04" y="289.35" width="6.1" height="1.0" fill="#333"/>
<text x="639.71" y="292.30" font-size="10.28" textLength="21.38" lengthAdjust="spacingAndGlyphs" fill="#1c1c1c">0.10</text>
<line x1="593.59" y1="304.75" x2="613.59" y2="304.75" stroke="#ff900e" stroke-width="0.7"/>
<circle cx="603.64" cy="304.75" r="1.6" fill="#ff900e"/>
<text x="621.44" y="308.25" font-size="10.28" font-style="italic" textLength="5.75" lengthAdjust="spacingAndGlyphs" fill="#1c1c1c">μ</text>
<text x="628.32" y="303.65" font-size="6.37" textLength="2.83" lengthAdjust="spacingAndGlyphs" fill="#1c1c1c">*</text>
<rect x="633.04" y="303.45" width="6.1" height="1.0" fill="#333"/>
<rect x="633.04" y="305.30" width="6.1" height="1.0" fill="#333"/>
<text x="639.71" y="308.25" font-size="10.28" textLength="21.30" lengthAdjust="spacingAndGlyphs" fill="#1c1c1c">0.13</text>
<line x1="593.59" y1="320.70" x2="613.59" y2="320.70" stroke="#2e8b57" stroke-width="0.7"/>
<circle cx="603.64" cy="320.70" r="1.6" fill="#2e8b57"/>
<text x="621.44" y="324.20" font-size="10.28" font-style="italic" textLength="5.75" lengthAdjust="spacingAndGlyphs" fill="#1c1c1c">μ</text>
<text x="628.32" y="319.60" font-size="6.37" textLength="2.83" lengthAdjust="spacingAndGlyphs" fill="#1c1c1c">*</text>
<rect x="633.04" y="319.40" width="6.1" height="1.0" fill="#333"/>
<rect x="633.04" y="321.25" width="6.1" height="1.0" fill="#333"/>
<text x="639.71" y="324.20" font-size="10.28" textLength="27.55" lengthAdjust="spacingAndGlyphs" fill="#1c1c1c">0.153</text>
</svg>
</body></html>
